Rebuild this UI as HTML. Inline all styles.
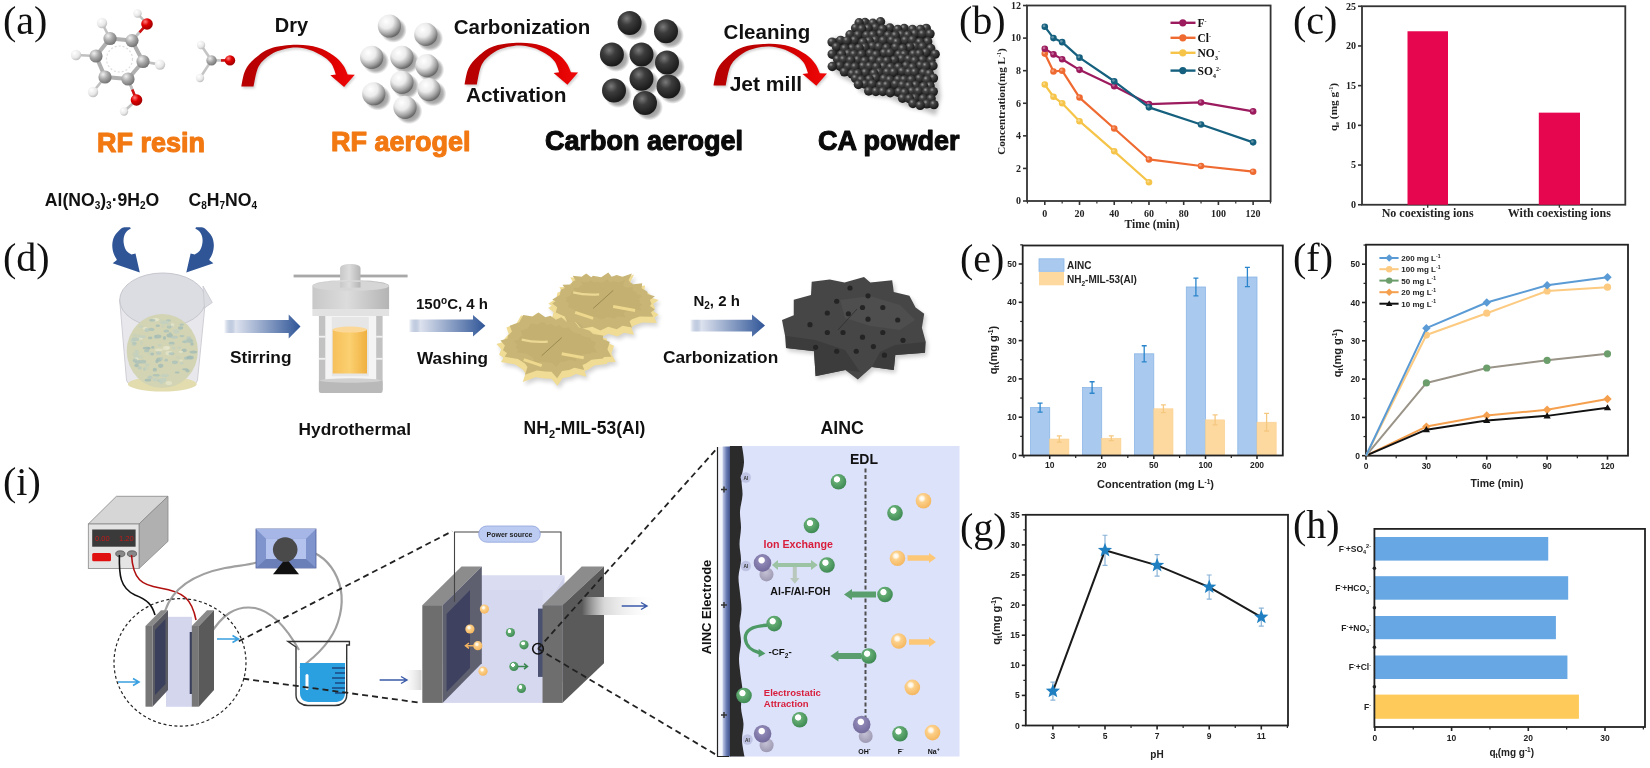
<!DOCTYPE html>
<html><head><meta charset="utf-8"><style>
html,body{margin:0;padding:0;background:#fff;width:1650px;height:768px;overflow:hidden}
svg{display:block;filter:blur(0.4px)}

</style></head><body>
<svg width="1650" height="768" viewBox="0 0 1650 768" font-family="Liberation Sans, sans-serif">
<defs>
<radialGradient id="gWhite" cx="0.36" cy="0.3" r="0.78">
 <stop offset="0" stop-color="#ffffff"/><stop offset="0.4" stop-color="#ebebeb"/><stop offset="0.72" stop-color="#a0a0a0"/><stop offset="1" stop-color="#505050"/></radialGradient>
<radialGradient id="gBlack" cx="0.38" cy="0.32" r="0.75">
 <stop offset="0" stop-color="#7a7a7a"/><stop offset="0.35" stop-color="#3c3c3c"/><stop offset="1" stop-color="#141414"/></radialGradient>
<radialGradient id="gPow" cx="0.36" cy="0.3" r="0.72">
 <stop offset="0" stop-color="#9c9c9c"/><stop offset="0.3" stop-color="#444"/><stop offset="1" stop-color="#151515"/></radialGradient>
<radialGradient id="gC" cx="0.35" cy="0.3" r="0.8">
 <stop offset="0" stop-color="#f0f0f0"/><stop offset="0.45" stop-color="#a8a8a8"/><stop offset="1" stop-color="#686868"/></radialGradient>
<radialGradient id="gO" cx="0.35" cy="0.3" r="0.8">
 <stop offset="0" stop-color="#ff8080"/><stop offset="0.4" stop-color="#e00000"/><stop offset="1" stop-color="#900000"/></radialGradient>
<radialGradient id="gH" cx="0.35" cy="0.3" r="0.8">
 <stop offset="0" stop-color="#ffffff"/><stop offset="0.6" stop-color="#e8e8e8"/><stop offset="1" stop-color="#b0b0b0"/></radialGradient>
<radialGradient id="gShadow" cx="0.5" cy="0.5" r="0.5">
 <stop offset="0" stop-color="#000" stop-opacity="0.55"/><stop offset="0.75" stop-color="#000" stop-opacity="0.3"/><stop offset="1" stop-color="#000" stop-opacity="0"/></radialGradient>
<linearGradient id="gRed2" gradientUnits="userSpaceOnUse" x1="241" y1="0" x2="355" y2="0">
 <stop offset="0" stop-color="#b80000"/><stop offset="0.5" stop-color="#bf0000"/><stop offset="0.8" stop-color="#e00000"/><stop offset="1" stop-color="#f00a0a"/></linearGradient>
<linearGradient id="gRed" x1="0" y1="0" x2="1" y2="0">
 <stop offset="0" stop-color="#b00000"/><stop offset="0.5" stop-color="#c80000"/><stop offset="1" stop-color="#e80808"/></linearGradient>
<linearGradient id="gBlueArr" x1="0" y1="0" x2="1" y2="0">
 <stop offset="0" stop-color="#2f5597" stop-opacity="0"/><stop offset="0.15" stop-color="#dde2ee"/><stop offset="1" stop-color="#2f5597"/></linearGradient>
<radialGradient id="gGreen" cx="0.4" cy="0.35" r="0.7">
 <stop offset="0" stop-color="#ffffff"/><stop offset="0.25" stop-color="#ffffff"/><stop offset="0.32" stop-color="#64ad74"/><stop offset="1" stop-color="#3a8650"/></radialGradient>
<radialGradient id="gOrange" cx="0.4" cy="0.35" r="0.7">
 <stop offset="0" stop-color="#ffffff"/><stop offset="0.2" stop-color="#fff3dc"/><stop offset="0.35" stop-color="#fcd08a"/><stop offset="1" stop-color="#f4b45a"/></radialGradient>
<radialGradient id="gPurple" cx="0.45" cy="0.35" r="0.7">
 <stop offset="0" stop-color="#ffffff"/><stop offset="0.22" stop-color="#ffffff"/><stop offset="0.3" stop-color="#8e86b4"/><stop offset="1" stop-color="#6e6698"/></radialGradient>
<radialGradient id="gPurple2" cx="0.45" cy="0.35" r="0.7">
 <stop offset="0" stop-color="#c4c0d4"/><stop offset="1" stop-color="#9a96b0"/></radialGradient>
<linearGradient id="gElec" x1="0" y1="0" x2="1" y2="0">
 <stop offset="0" stop-color="#c8d0ea"/><stop offset="0.5" stop-color="#6a7cb4"/><stop offset="1" stop-color="#3c4c84"/></linearGradient>
<linearGradient id="gFlow" x1="0" y1="0" x2="1" y2="0">
 <stop offset="0" stop-color="#ffffff" stop-opacity="0"/><stop offset="0.3" stop-color="#d8d8d8"/><stop offset="1" stop-color="#ffffff" stop-opacity="0"/></linearGradient>
<linearGradient id="gFlowL" x1="0" y1="0" x2="1" y2="0">
 <stop offset="0" stop-color="#ffffff" stop-opacity="0"/><stop offset="1" stop-color="#d8d8d8"/></linearGradient>
<linearGradient id="gYel" x1="0" y1="0" x2="1" y2="0">
 <stop offset="0" stop-color="#f6c05a"/><stop offset="0.5" stop-color="#fbd070"/><stop offset="1" stop-color="#f0b040"/></linearGradient>
<linearGradient id="gGrayCyl" x1="0" y1="0" x2="1" y2="0">
 <stop offset="0" stop-color="#c8c8c8"/><stop offset="0.45" stop-color="#dcdcdc"/><stop offset="1" stop-color="#b4b4b4"/></linearGradient>
<linearGradient id="gLiquid" x1="0" y1="0" x2="0" y2="1">
 <stop offset="0" stop-color="#d9dcc0"/><stop offset="1" stop-color="#c8c6a0"/></linearGradient>
<filter id="blur1" x="-20%" y="-20%" width="140%" height="140%"><feGaussianBlur stdDeviation="1.2"/></filter>
<filter id="blur2" x="-30%" y="-30%" width="160%" height="160%"><feGaussianBlur stdDeviation="2"/></filter>
<filter id="soft" x="-5%" y="-5%" width="110%" height="110%"><feGaussianBlur stdDeviation="0.5"/></filter>
</defs>
<rect width="1650" height="768" fill="#fff"/>
<line x1="110" y1="38.5" x2="132" y2="40.6" stroke="#b0b0b0" stroke-width="4"/><line x1="132" y1="40.6" x2="143" y2="61.5" stroke="#b0b0b0" stroke-width="4"/><line x1="143" y1="61.5" x2="128" y2="79" stroke="#b0b0b0" stroke-width="4"/><line x1="128" y1="79" x2="105" y2="77" stroke="#b0b0b0" stroke-width="4"/><line x1="105" y1="77" x2="96" y2="56" stroke="#b0b0b0" stroke-width="4"/><line x1="96" y1="56" x2="110" y2="38.5" stroke="#b0b0b0" stroke-width="4"/><line x1="110" y1="38.5" x2="102" y2="23" stroke="#c0c0c0" stroke-width="2.6"/><line x1="96" y1="56" x2="76" y2="55" stroke="#c0c0c0" stroke-width="2.6"/><line x1="143" y1="61.5" x2="160" y2="64.6" stroke="#c0c0c0" stroke-width="2.6"/><line x1="105" y1="77" x2="93" y2="92" stroke="#c0c0c0" stroke-width="2.6"/><line x1="132" y1="40.6" x2="147" y2="24" stroke="#c0c0c0" stroke-width="2.6"/><line x1="128" y1="79" x2="136.5" y2="100" stroke="#c0c0c0" stroke-width="2.6"/><line x1="147" y1="24" x2="137.5" y2="13.5" stroke="#c0c0c0" stroke-width="2.6"/><line x1="136.5" y1="100" x2="124" y2="111.5" stroke="#c0c0c0" stroke-width="2.6"/><circle cx="119.5" cy="59" r="13" fill="none" stroke="#bbb" stroke-width="1.2" stroke-dasharray="2 2" opacity="0.5"/>
<line x1="132" y1="40.6" x2="139.5" y2="32.3" stroke="#c0c0c0" stroke-width="2.6"/>
<line x1="139.5" y1="32.3" x2="147" y2="24" stroke="#d01010" stroke-width="2.6"/>
<line x1="128" y1="79" x2="132.25" y2="89.5" stroke="#c0c0c0" stroke-width="2.6"/>
<line x1="132.25" y1="89.5" x2="136.5" y2="100" stroke="#d01010" stroke-width="2.6"/>
<circle cx="102" cy="23" r="5.2" fill="url(#gH)"/>
<circle cx="76" cy="55" r="5.2" fill="url(#gH)"/>
<circle cx="160" cy="64.6" r="5.2" fill="url(#gH)"/>
<circle cx="93" cy="92" r="5.2" fill="url(#gH)"/>
<circle cx="137.5" cy="13.5" r="4.2" fill="url(#gH)"/>
<circle cx="124" cy="111.5" r="4.2" fill="url(#gH)"/>
<circle cx="110" cy="38.5" r="6.6" fill="url(#gC)"/>
<circle cx="132" cy="40.6" r="6.6" fill="url(#gC)"/>
<circle cx="143" cy="61.5" r="6.6" fill="url(#gC)"/>
<circle cx="128" cy="79" r="6.6" fill="url(#gC)"/>
<circle cx="105" cy="77" r="6.6" fill="url(#gC)"/>
<circle cx="96" cy="56" r="6.6" fill="url(#gC)"/>
<circle cx="147" cy="24" r="5.8" fill="url(#gO)"/>
<circle cx="136.5" cy="100" r="5.8" fill="url(#gO)"/>
<line x1="201" y1="45" x2="211.5" y2="60.4" stroke="#c4c4c4" stroke-width="2.6"/>
<line x1="200" y1="78" x2="211.5" y2="60.4" stroke="#c4c4c4" stroke-width="2.6"/>
<line x1="211.5" y1="60.4" x2="230" y2="60.4" stroke="#c4c4c4" stroke-width="2.6"/>
<line x1="221" y1="60.4" x2="230" y2="60.4" stroke="#d01010" stroke-width="2.6"/>
<circle cx="201" cy="45" r="4.2" fill="url(#gH)"/>
<circle cx="200" cy="78" r="4.2" fill="url(#gH)"/>
<circle cx="211.5" cy="60.4" r="5.2" fill="url(#gC)"/>
<circle cx="230" cy="60.4" r="5.2" fill="url(#gO)"/>
<g transform="translate(0,0)"><path d="M241.3,86.6 C241.95,83.92 242.97,75.17 245.2,70.5 C247.43,65.83 250.48,62.28 254.7,58.6 C258.92,54.92 263.53,50.69 270.5,48.4 C277.47,46.11 288.63,44.98 296.5,44.85 C304.37,44.72 311.53,45.83 317.7,47.6 C323.87,49.38 329.28,52.62 333.5,55.5 C337.72,58.38 340.63,61.75 343,64.9 C345.37,68.05 346.92,72.82 347.7,74.4 L354.8,74.8 L344.1,87 L330.3,75.2 L335.9,74.4 C335.12,72.57 333.57,66.55 331.2,63.4 C328.83,60.25 325.25,57.73 321.7,55.5 C318.15,53.27 313.97,51.32 309.9,50 C305.83,48.68 301.63,47.73 297.3,47.6 C292.97,47.47 288.37,48.02 283.9,49.2 C279.43,50.38 274.72,51.82 270.5,54.7 C266.28,57.58 261.43,61.18 258.6,66.5 C255.77,71.82 254.35,83.25 253.5,86.6 Z" fill="#808080" opacity="0.35" transform="translate(1.2,1.8)" filter="url(#blur1)"/><path d="M241.3,86.6 C241.95,83.92 242.97,75.17 245.2,70.5 C247.43,65.83 250.48,62.28 254.7,58.6 C258.92,54.92 263.53,50.69 270.5,48.4 C277.47,46.11 288.63,44.98 296.5,44.85 C304.37,44.72 311.53,45.83 317.7,47.6 C323.87,49.38 329.28,52.62 333.5,55.5 C337.72,58.38 340.63,61.75 343,64.9 C345.37,68.05 346.92,72.82 347.7,74.4 L354.8,74.8 L344.1,87 L330.3,75.2 L335.9,74.4 C335.12,72.57 333.57,66.55 331.2,63.4 C328.83,60.25 325.25,57.73 321.7,55.5 C318.15,53.27 313.97,51.32 309.9,50 C305.83,48.68 301.63,47.73 297.3,47.6 C292.97,47.47 288.37,48.02 283.9,49.2 C279.43,50.38 274.72,51.82 270.5,54.7 C266.28,57.58 261.43,61.18 258.6,66.5 C255.77,71.82 254.35,83.25 253.5,86.6 Z" fill="url(#gRed2)"/></g>
<g transform="translate(223.3,-2.2)"><path d="M241.3,86.6 C241.95,83.92 242.97,75.17 245.2,70.5 C247.43,65.83 250.48,62.28 254.7,58.6 C258.92,54.92 263.53,50.69 270.5,48.4 C277.47,46.11 288.63,44.98 296.5,44.85 C304.37,44.72 311.53,45.83 317.7,47.6 C323.87,49.38 329.28,52.62 333.5,55.5 C337.72,58.38 340.63,61.75 343,64.9 C345.37,68.05 346.92,72.82 347.7,74.4 L354.8,74.8 L344.1,87 L330.3,75.2 L335.9,74.4 C335.12,72.57 333.57,66.55 331.2,63.4 C328.83,60.25 325.25,57.73 321.7,55.5 C318.15,53.27 313.97,51.32 309.9,50 C305.83,48.68 301.63,47.73 297.3,47.6 C292.97,47.47 288.37,48.02 283.9,49.2 C279.43,50.38 274.72,51.82 270.5,54.7 C266.28,57.58 261.43,61.18 258.6,66.5 C255.77,71.82 254.35,83.25 253.5,86.6 Z" fill="#808080" opacity="0.35" transform="translate(1.2,1.8)" filter="url(#blur1)"/><path d="M241.3,86.6 C241.95,83.92 242.97,75.17 245.2,70.5 C247.43,65.83 250.48,62.28 254.7,58.6 C258.92,54.92 263.53,50.69 270.5,48.4 C277.47,46.11 288.63,44.98 296.5,44.85 C304.37,44.72 311.53,45.83 317.7,47.6 C323.87,49.38 329.28,52.62 333.5,55.5 C337.72,58.38 340.63,61.75 343,64.9 C345.37,68.05 346.92,72.82 347.7,74.4 L354.8,74.8 L344.1,87 L330.3,75.2 L335.9,74.4 C335.12,72.57 333.57,66.55 331.2,63.4 C328.83,60.25 325.25,57.73 321.7,55.5 C318.15,53.27 313.97,51.32 309.9,50 C305.83,48.68 301.63,47.73 297.3,47.6 C292.97,47.47 288.37,48.02 283.9,49.2 C279.43,50.38 274.72,51.82 270.5,54.7 C266.28,57.58 261.43,61.18 258.6,66.5 C255.77,71.82 254.35,83.25 253.5,86.6 Z" fill="url(#gRed2)"/></g>
<g transform="translate(472.2,-1.2)"><path d="M241.3,86.6 C241.95,83.92 242.97,75.17 245.2,70.5 C247.43,65.83 250.48,62.28 254.7,58.6 C258.92,54.92 263.53,50.69 270.5,48.4 C277.47,46.11 288.63,44.98 296.5,44.85 C304.37,44.72 311.53,45.83 317.7,47.6 C323.87,49.38 329.28,52.62 333.5,55.5 C337.72,58.38 340.63,61.75 343,64.9 C345.37,68.05 346.92,72.82 347.7,74.4 L354.8,74.8 L344.1,87 L330.3,75.2 L335.9,74.4 C335.12,72.57 333.57,66.55 331.2,63.4 C328.83,60.25 325.25,57.73 321.7,55.5 C318.15,53.27 313.97,51.32 309.9,50 C305.83,48.68 301.63,47.73 297.3,47.6 C292.97,47.47 288.37,48.02 283.9,49.2 C279.43,50.38 274.72,51.82 270.5,54.7 C266.28,57.58 261.43,61.18 258.6,66.5 C255.77,71.82 254.35,83.25 253.5,86.6 Z" fill="#808080" opacity="0.35" transform="translate(1.2,1.8)" filter="url(#blur1)"/><path d="M241.3,86.6 C241.95,83.92 242.97,75.17 245.2,70.5 C247.43,65.83 250.48,62.28 254.7,58.6 C258.92,54.92 263.53,50.69 270.5,48.4 C277.47,46.11 288.63,44.98 296.5,44.85 C304.37,44.72 311.53,45.83 317.7,47.6 C323.87,49.38 329.28,52.62 333.5,55.5 C337.72,58.38 340.63,61.75 343,64.9 C345.37,68.05 346.92,72.82 347.7,74.4 L354.8,74.8 L344.1,87 L330.3,75.2 L335.9,74.4 C335.12,72.57 333.57,66.55 331.2,63.4 C328.83,60.25 325.25,57.73 321.7,55.5 C318.15,53.27 313.97,51.32 309.9,50 C305.83,48.68 301.63,47.73 297.3,47.6 C292.97,47.47 288.37,48.02 283.9,49.2 C279.43,50.38 274.72,51.82 270.5,54.7 C266.28,57.58 261.43,61.18 258.6,66.5 C255.77,71.82 254.35,83.25 253.5,86.6 Z" fill="url(#gRed2)"/></g>
<ellipse cx="393.46" cy="30.06" rx="13.34" ry="12.76" fill="url(#gShadow)"/><circle cx="389.4" cy="26" r="11.6" fill="url(#gWhite)"/>
<ellipse cx="429.86" cy="38.46" rx="13.34" ry="12.76" fill="url(#gShadow)"/><circle cx="425.8" cy="34.4" r="11.6" fill="url(#gWhite)"/>
<ellipse cx="375.76" cy="61.36" rx="13.34" ry="12.76" fill="url(#gShadow)"/><circle cx="371.7" cy="57.3" r="11.6" fill="url(#gWhite)"/>
<ellipse cx="405.96" cy="61.36" rx="13.34" ry="12.76" fill="url(#gShadow)"/><circle cx="401.9" cy="57.3" r="11.6" fill="url(#gWhite)"/>
<ellipse cx="430.96" cy="69.66" rx="13.34" ry="12.76" fill="url(#gShadow)"/><circle cx="426.9" cy="65.6" r="11.6" fill="url(#gWhite)"/>
<ellipse cx="405.96" cy="86.36" rx="13.34" ry="12.76" fill="url(#gShadow)"/><circle cx="401.9" cy="82.3" r="11.6" fill="url(#gWhite)"/>
<ellipse cx="377.81" cy="97.81" rx="13.34" ry="12.76" fill="url(#gShadow)"/><circle cx="373.75" cy="93.75" r="11.6" fill="url(#gWhite)"/>
<ellipse cx="433.06" cy="93.66" rx="13.34" ry="12.76" fill="url(#gShadow)"/><circle cx="429" cy="89.6" r="11.6" fill="url(#gWhite)"/>
<ellipse cx="409.06" cy="111.36" rx="13.34" ry="12.76" fill="url(#gShadow)"/><circle cx="405" cy="107.3" r="11.6" fill="url(#gWhite)"/>
<ellipse cx="633.8" cy="27.1" rx="13.8" ry="13.2" fill="url(#gShadow)"/><circle cx="629.6" cy="22.9" r="12" fill="url(#gBlack)"/>
<ellipse cx="670.2" cy="35.45" rx="13.8" ry="13.2" fill="url(#gShadow)"/><circle cx="666" cy="31.25" r="12" fill="url(#gBlack)"/>
<ellipse cx="616.1" cy="58.8" rx="13.8" ry="13.2" fill="url(#gShadow)"/><circle cx="611.9" cy="54.6" r="12" fill="url(#gBlack)"/>
<ellipse cx="645.7" cy="58.8" rx="13.8" ry="13.2" fill="url(#gShadow)"/><circle cx="641.5" cy="54.6" r="12" fill="url(#gBlack)"/>
<ellipse cx="671.2" cy="66.7" rx="13.8" ry="13.2" fill="url(#gShadow)"/><circle cx="667" cy="62.5" r="12" fill="url(#gBlack)"/>
<ellipse cx="645.7" cy="82.95" rx="13.8" ry="13.2" fill="url(#gShadow)"/><circle cx="641.5" cy="78.75" r="12" fill="url(#gBlack)"/>
<ellipse cx="618.2" cy="94.8" rx="13.8" ry="13.2" fill="url(#gShadow)"/><circle cx="614" cy="90.6" r="12" fill="url(#gBlack)"/>
<ellipse cx="672.7" cy="90.7" rx="13.8" ry="13.2" fill="url(#gShadow)"/><circle cx="668.5" cy="86.5" r="12" fill="url(#gBlack)"/>
<ellipse cx="649.2" cy="107.2" rx="13.8" ry="13.2" fill="url(#gShadow)"/><circle cx="645" cy="103" r="12" fill="url(#gBlack)"/>
<polygon points="837.6,37.2 845.4,40.3 854.8,32.5 859.5,23.1 880,21.5 900,27.8 919,26.25 931,30.9 933,41.5 937.6,54.5 939,82.5 940.75,96.5 936,115.5 923.5,110.5 909.5,107.5 895.4,101.25 889,98.1 873.5,96.5 859.5,91.5 858,85.5 842,77.5 833.7,71.5 832,49.5 833,38.75" fill="#000" opacity="0.25" filter="url(#blur2)"/>
<polygon points="838.98,37.47 846.24,40.26 854.98,33.24 859.35,24.78 878.42,23.34 897.02,29.01 914.69,27.62 925.85,31.8 927.71,41.34 931.98,53.04 933.29,78.24 934.91,90.84 930.5,107.94 918.87,103.44 905.85,100.74 892.74,95.12 886.79,92.28 872.37,90.84 859.35,86.34 857.96,80.94 843.08,73.74 835.36,68.34 833.78,48.54 834.71,38.87" fill="#262626"/>
<circle cx="864.99" cy="22.48" r="4.7" fill="url(#gPow)"/>
<circle cx="859.11" cy="22.78" r="4.7" fill="url(#gPow)"/>
<circle cx="880.55" cy="21.79" r="4.7" fill="url(#gPow)"/>
<circle cx="872.86" cy="23.2" r="4.7" fill="url(#gPow)"/>
<circle cx="855.57" cy="28.08" r="4.7" fill="url(#gPow)"/>
<circle cx="875.6" cy="27.68" r="4.7" fill="url(#gPow)"/>
<circle cx="868.05" cy="28.51" r="4.7" fill="url(#gPow)"/>
<circle cx="861.73" cy="29" r="4.7" fill="url(#gPow)"/>
<circle cx="889.91" cy="27.99" r="4.7" fill="url(#gPow)"/>
<circle cx="882.54" cy="29.24" r="4.7" fill="url(#gPow)"/>
<circle cx="904.19" cy="28.48" r="4.7" fill="url(#gPow)"/>
<circle cx="897.74" cy="29.49" r="4.7" fill="url(#gPow)"/>
<circle cx="926.27" cy="28.4" r="4.7" fill="url(#gPow)"/>
<circle cx="912.52" cy="29.52" r="4.7" fill="url(#gPow)"/>
<circle cx="920.37" cy="29.47" r="4.7" fill="url(#gPow)"/>
<circle cx="850.01" cy="34.71" r="4.7" fill="url(#gPow)"/>
<circle cx="880.42" cy="33.83" r="4.7" fill="url(#gPow)"/>
<circle cx="858.09" cy="35.06" r="4.7" fill="url(#gPow)"/>
<circle cx="866.69" cy="35.36" r="4.7" fill="url(#gPow)"/>
<circle cx="872.84" cy="35.18" r="4.7" fill="url(#gPow)"/>
<circle cx="914.95" cy="33.86" r="4.7" fill="url(#gPow)"/>
<circle cx="901.34" cy="34.66" r="4.7" fill="url(#gPow)"/>
<circle cx="888.16" cy="35.57" r="4.7" fill="url(#gPow)"/>
<circle cx="922.5" cy="34.09" r="4.7" fill="url(#gPow)"/>
<circle cx="930.02" cy="33.83" r="4.7" fill="url(#gPow)"/>
<circle cx="895.3" cy="35.61" r="4.7" fill="url(#gPow)"/>
<circle cx="907.85" cy="35.22" r="4.7" fill="url(#gPow)"/>
<circle cx="840.67" cy="40.36" r="4.7" fill="url(#gPow)"/>
<circle cx="854.47" cy="40.29" r="4.7" fill="url(#gPow)"/>
<circle cx="847.01" cy="40.83" r="4.7" fill="url(#gPow)"/>
<circle cx="832.06" cy="42.1" r="4.7" fill="url(#gPow)"/>
<circle cx="875.41" cy="40.25" r="4.7" fill="url(#gPow)"/>
<circle cx="869.12" cy="41.16" r="4.7" fill="url(#gPow)"/>
<circle cx="883.22" cy="40.64" r="4.7" fill="url(#gPow)"/>
<circle cx="891.59" cy="40.39" r="4.7" fill="url(#gPow)"/>
<circle cx="862.84" cy="42.38" r="4.7" fill="url(#gPow)"/>
<circle cx="905.27" cy="40.35" r="4.7" fill="url(#gPow)"/>
<circle cx="912.5" cy="40.06" r="4.7" fill="url(#gPow)"/>
<circle cx="896.86" cy="42.28" r="4.7" fill="url(#gPow)"/>
<circle cx="927.67" cy="41.67" r="4.7" fill="url(#gPow)"/>
<circle cx="919.67" cy="42.35" r="4.7" fill="url(#gPow)"/>
<circle cx="836.39" cy="46.84" r="4.7" fill="url(#gPow)"/>
<circle cx="872.45" cy="46.37" r="4.7" fill="url(#gPow)"/>
<circle cx="864.94" cy="47.54" r="4.7" fill="url(#gPow)"/>
<circle cx="852.05" cy="48.23" r="4.7" fill="url(#gPow)"/>
<circle cx="844.75" cy="48.66" r="4.7" fill="url(#gPow)"/>
<circle cx="878.87" cy="46.97" r="4.7" fill="url(#gPow)"/>
<circle cx="859.16" cy="48.08" r="4.7" fill="url(#gPow)"/>
<circle cx="895.5" cy="47.37" r="4.7" fill="url(#gPow)"/>
<circle cx="886.62" cy="47.96" r="4.7" fill="url(#gPow)"/>
<circle cx="915.33" cy="46.84" r="4.7" fill="url(#gPow)"/>
<circle cx="909.89" cy="47.18" r="4.7" fill="url(#gPow)"/>
<circle cx="922.47" cy="46.79" r="4.7" fill="url(#gPow)"/>
<circle cx="902.65" cy="48.67" r="4.7" fill="url(#gPow)"/>
<circle cx="930.7" cy="48.46" r="4.7" fill="url(#gPow)"/>
<circle cx="832.2" cy="54.19" r="4.7" fill="url(#gPow)"/>
<circle cx="848.2" cy="53.75" r="4.7" fill="url(#gPow)"/>
<circle cx="841.38" cy="54.48" r="4.7" fill="url(#gPow)"/>
<circle cx="870.33" cy="53.55" r="4.7" fill="url(#gPow)"/>
<circle cx="854.03" cy="54.49" r="4.7" fill="url(#gPow)"/>
<circle cx="884.14" cy="53.01" r="4.7" fill="url(#gPow)"/>
<circle cx="889.9" cy="52.96" r="4.7" fill="url(#gPow)"/>
<circle cx="861.6" cy="54.52" r="4.7" fill="url(#gPow)"/>
<circle cx="876.16" cy="54.87" r="4.7" fill="url(#gPow)"/>
<circle cx="925.91" cy="52.63" r="4.7" fill="url(#gPow)"/>
<circle cx="898.97" cy="54.54" r="4.7" fill="url(#gPow)"/>
<circle cx="904.35" cy="54.58" r="4.7" fill="url(#gPow)"/>
<circle cx="913.55" cy="54.18" r="4.7" fill="url(#gPow)"/>
<circle cx="919.24" cy="53.92" r="4.7" fill="url(#gPow)"/>
<circle cx="935.13" cy="54.16" r="4.7" fill="url(#gPow)"/>
<circle cx="837.58" cy="59.41" r="4.7" fill="url(#gPow)"/>
<circle cx="843.4" cy="59.6" r="4.7" fill="url(#gPow)"/>
<circle cx="857.82" cy="59.91" r="4.7" fill="url(#gPow)"/>
<circle cx="850.58" cy="60.31" r="4.7" fill="url(#gPow)"/>
<circle cx="872.45" cy="60" r="4.7" fill="url(#gPow)"/>
<circle cx="901.66" cy="58.94" r="4.7" fill="url(#gPow)"/>
<circle cx="864.71" cy="61.08" r="4.7" fill="url(#gPow)"/>
<circle cx="908.66" cy="59.34" r="4.7" fill="url(#gPow)"/>
<circle cx="894.4" cy="60.18" r="4.7" fill="url(#gPow)"/>
<circle cx="880.2" cy="61.07" r="4.7" fill="url(#gPow)"/>
<circle cx="887.01" cy="61.1" r="4.7" fill="url(#gPow)"/>
<circle cx="922.41" cy="60.04" r="4.7" fill="url(#gPow)"/>
<circle cx="914.81" cy="60.82" r="4.7" fill="url(#gPow)"/>
<circle cx="930.94" cy="60.24" r="4.7" fill="url(#gPow)"/>
<circle cx="839.8" cy="65.86" r="4.7" fill="url(#gPow)"/>
<circle cx="832.25" cy="66.54" r="4.7" fill="url(#gPow)"/>
<circle cx="848.25" cy="66.42" r="4.7" fill="url(#gPow)"/>
<circle cx="862.99" cy="66.26" r="4.7" fill="url(#gPow)"/>
<circle cx="854.95" cy="67.02" r="4.7" fill="url(#gPow)"/>
<circle cx="869.47" cy="66.41" r="4.7" fill="url(#gPow)"/>
<circle cx="883.49" cy="66.48" r="4.7" fill="url(#gPow)"/>
<circle cx="876.43" cy="66.86" r="4.7" fill="url(#gPow)"/>
<circle cx="906.26" cy="65.82" r="4.7" fill="url(#gPow)"/>
<circle cx="920.42" cy="65.53" r="4.7" fill="url(#gPow)"/>
<circle cx="890.75" cy="67.46" r="4.7" fill="url(#gPow)"/>
<circle cx="898.48" cy="67.3" r="4.7" fill="url(#gPow)"/>
<circle cx="932.97" cy="65.78" r="4.7" fill="url(#gPow)"/>
<circle cx="925.89" cy="66.26" r="4.7" fill="url(#gPow)"/>
<circle cx="912.54" cy="67.46" r="4.7" fill="url(#gPow)"/>
<circle cx="844.38" cy="71.84" r="4.7" fill="url(#gPow)"/>
<circle cx="865.36" cy="72.67" r="4.7" fill="url(#gPow)"/>
<circle cx="852.12" cy="73.82" r="4.7" fill="url(#gPow)"/>
<circle cx="879.19" cy="72.54" r="4.7" fill="url(#gPow)"/>
<circle cx="902.13" cy="71.55" r="4.7" fill="url(#gPow)"/>
<circle cx="857.73" cy="73.79" r="4.7" fill="url(#gPow)"/>
<circle cx="887.24" cy="72.31" r="4.7" fill="url(#gPow)"/>
<circle cx="893.67" cy="72.26" r="4.7" fill="url(#gPow)"/>
<circle cx="873.98" cy="73.5" r="4.7" fill="url(#gPow)"/>
<circle cx="908.93" cy="72.56" r="4.7" fill="url(#gPow)"/>
<circle cx="914.84" cy="72.3" r="4.7" fill="url(#gPow)"/>
<circle cx="923.5" cy="72.73" r="4.7" fill="url(#gPow)"/>
<circle cx="929.35" cy="73.86" r="4.7" fill="url(#gPow)"/>
<circle cx="855.57" cy="78.42" r="4.7" fill="url(#gPow)"/>
<circle cx="875.41" cy="77.94" r="4.7" fill="url(#gPow)"/>
<circle cx="869.37" cy="79.48" r="4.7" fill="url(#gPow)"/>
<circle cx="884.05" cy="78.82" r="4.7" fill="url(#gPow)"/>
<circle cx="861.16" cy="80.01" r="4.7" fill="url(#gPow)"/>
<circle cx="889.77" cy="80.05" r="4.7" fill="url(#gPow)"/>
<circle cx="919.49" cy="78.61" r="4.7" fill="url(#gPow)"/>
<circle cx="898.32" cy="79.72" r="4.7" fill="url(#gPow)"/>
<circle cx="933.44" cy="78.11" r="4.7" fill="url(#gPow)"/>
<circle cx="904.2" cy="79.85" r="4.7" fill="url(#gPow)"/>
<circle cx="911.36" cy="79.87" r="4.7" fill="url(#gPow)"/>
<circle cx="926.93" cy="80.02" r="4.7" fill="url(#gPow)"/>
<circle cx="865.23" cy="84.14" r="4.7" fill="url(#gPow)"/>
<circle cx="858.4" cy="84.53" r="4.7" fill="url(#gPow)"/>
<circle cx="872.2" cy="84.14" r="4.7" fill="url(#gPow)"/>
<circle cx="895.44" cy="84.36" r="4.7" fill="url(#gPow)"/>
<circle cx="880.56" cy="85.42" r="4.7" fill="url(#gPow)"/>
<circle cx="886.45" cy="85.24" r="4.7" fill="url(#gPow)"/>
<circle cx="902.37" cy="85.14" r="4.7" fill="url(#gPow)"/>
<circle cx="915.74" cy="85.32" r="4.7" fill="url(#gPow)"/>
<circle cx="908.79" cy="86.1" r="4.7" fill="url(#gPow)"/>
<circle cx="930.02" cy="86.1" r="4.7" fill="url(#gPow)"/>
<circle cx="923.65" cy="86.46" r="4.7" fill="url(#gPow)"/>
<circle cx="868.68" cy="90.98" r="4.7" fill="url(#gPow)"/>
<circle cx="875.9" cy="91.5" r="4.7" fill="url(#gPow)"/>
<circle cx="882.78" cy="91.47" r="4.7" fill="url(#gPow)"/>
<circle cx="899.13" cy="91.71" r="4.7" fill="url(#gPow)"/>
<circle cx="911.94" cy="91.26" r="4.7" fill="url(#gPow)"/>
<circle cx="890.23" cy="92.71" r="4.7" fill="url(#gPow)"/>
<circle cx="918.4" cy="91.32" r="4.7" fill="url(#gPow)"/>
<circle cx="926.74" cy="91.61" r="4.7" fill="url(#gPow)"/>
<circle cx="904.59" cy="92.72" r="4.7" fill="url(#gPow)"/>
<circle cx="933.28" cy="91.61" r="4.7" fill="url(#gPow)"/>
<circle cx="902.54" cy="98.21" r="4.7" fill="url(#gPow)"/>
<circle cx="915.13" cy="97.96" r="4.7" fill="url(#gPow)"/>
<circle cx="909.36" cy="98.65" r="4.7" fill="url(#gPow)"/>
<circle cx="923.21" cy="98.7" r="4.7" fill="url(#gPow)"/>
<circle cx="931.13" cy="98.68" r="4.7" fill="url(#gPow)"/>
<circle cx="912.95" cy="103.49" r="4.7" fill="url(#gPow)"/>
<circle cx="926.79" cy="103.92" r="4.7" fill="url(#gPow)"/>
<circle cx="933.95" cy="104.64" r="4.7" fill="url(#gPow)"/>
<circle cx="920.18" cy="105.34" r="4.7" fill="url(#gPow)"/>
<text x="274.8" y="31.5" font-family="Liberation Sans" font-weight="bold" font-size="20" fill="#111">Dry</text>
<text x="453.7" y="34.4" font-family="Liberation Sans" font-weight="bold" font-size="20.5" fill="#111">Carbonization</text>
<text x="466" y="101.8" font-family="Liberation Sans" font-weight="bold" font-size="20.8" fill="#111">Activation</text>
<text x="723.6" y="38.5" font-family="Liberation Sans" font-weight="bold" font-size="20.5" fill="#111">Cleaning</text>
<text x="729.7" y="91.2" font-family="Liberation Sans" font-weight="bold" font-size="21" fill="#111">Jet mill</text>
<text x="97" y="151.7" font-family="Liberation Sans" font-weight="bold" font-size="27" stroke-width="1.1" stroke-linejoin="round" fill="#f27812" stroke="#f27812">RF resin</text>
<text x="331" y="151" font-family="Liberation Sans" font-weight="bold" font-size="27" stroke-width="1.1" stroke-linejoin="round" fill="#f27812" stroke="#f27812">RF aerogel</text>
<text x="545" y="150" font-family="Liberation Sans" font-weight="bold" font-size="27" stroke-width="1.1" stroke-linejoin="round" fill="#0a0a0a" stroke="#0a0a0a">Carbon aerogel</text>
<text x="818" y="150" font-family="Liberation Sans" font-weight="bold" font-size="27" stroke-width="1.1" stroke-linejoin="round" fill="#0a0a0a" stroke="#0a0a0a">CA powder</text>
<text x="44.8" y="205.6" font-family="Liberation Sans" font-weight="bold" font-size="17.6" fill="#111">Al(NO<tspan font-size="10" dy="3.5">3</tspan><tspan dy="-3.5">)</tspan><tspan font-size="10" dy="3.5">3</tspan><tspan dy="-3.5">·9H</tspan><tspan font-size="10" dy="3.5">2</tspan><tspan dy="-3.5">O</tspan></text>
<text x="188.5" y="205.6" font-family="Liberation Sans" font-weight="bold" font-size="17.6" fill="#111">C<tspan font-size="10" dy="3.5">8</tspan><tspan dy="-3.5">H</tspan><tspan font-size="10" dy="3.5">7</tspan><tspan dy="-3.5">NO</tspan><tspan font-size="10" dy="3.5">4</tspan></text>
<path d="M130,227.3 C129.25,227.28 126.97,227 125.5,227.2 C124.03,227.4 123.05,227 121.2,228.5 C119.35,230 115.88,233.52 114.4,236.2 C112.92,238.88 112.45,241.78 112.3,244.6 C112.15,247.42 112.73,250.55 113.5,253.1 C114.27,255.65 116.33,258.77 116.9,259.9 L112.7,263.2 L139.8,272.6 L135.5,253.5 L131.3,254.4 C130.45,253.75 127.47,252.4 126.2,250.5 C124.93,248.6 124.05,245.38 123.7,243 C123.35,240.62 123.53,238.18 124.1,236.2 C124.67,234.22 125.98,232.37 127.1,231.1 C128.22,229.83 130.18,229.02 130.8,228.6 Z" fill="#2f5597"/>
<path d="M130,227.3 C129.25,227.28 126.97,227 125.5,227.2 C124.03,227.4 123.05,227 121.2,228.5 C119.35,230 115.88,233.52 114.4,236.2 C112.92,238.88 112.45,241.78 112.3,244.6 C112.15,247.42 112.73,250.55 113.5,253.1 C114.27,255.65 116.33,258.77 116.9,259.9 L112.7,263.2 L139.8,272.6 L135.5,253.5 L131.3,254.4 C130.45,253.75 127.47,252.4 126.2,250.5 C124.93,248.6 124.05,245.38 123.7,243 C123.35,240.62 123.53,238.18 124.1,236.2 C124.67,234.22 125.98,232.37 127.1,231.1 C128.22,229.83 130.18,229.02 130.8,228.6 Z" fill="#2f5597" transform="translate(326.1,0) scale(-1,1)"/>
<path d="M119.7,300 L126.5,380 C128,394 196,394 197.5,380 L205.5,300 Z" fill="#e8e8ec" stroke="#cfcfd6" stroke-width="1"/>
<ellipse cx="162.7" cy="300" rx="43" ry="27" fill="#dcdce3" stroke="#c6c6ce" stroke-width="1"/>
<path d="M203,286 L212.3,302.5 L204.5,308 Z" fill="#dcdce3" stroke="#c6c6ce" stroke-width="0.8"/>
<ellipse cx="162.3" cy="384" rx="34.5" ry="7.5" fill="#e2dcae"/>
<ellipse cx="162.3" cy="351" rx="35.6" ry="37" fill="#d2d4b4"/>
<ellipse cx="164.08" cy="375.48" rx="3.61" ry="1.57" fill="#c0d0c2" opacity="0.75"/>
<ellipse cx="140.54" cy="338.4" rx="2.1" ry="1.28" fill="#e6e6cc" opacity="0.75"/>
<ellipse cx="184.24" cy="350.38" rx="2.6" ry="1.77" fill="#a0bab6" opacity="0.75"/>
<ellipse cx="177.21" cy="372.51" rx="2.4" ry="1.02" fill="#a0bab6" opacity="0.75"/>
<ellipse cx="164.48" cy="337.91" rx="1.6" ry="1.94" fill="#a0bab6" opacity="0.75"/>
<ellipse cx="169.71" cy="335.54" rx="3.15" ry="2.05" fill="#a0bab6" opacity="0.75"/>
<ellipse cx="155.44" cy="319.87" rx="3.17" ry="1.69" fill="#e6e6cc" opacity="0.75"/>
<ellipse cx="173.72" cy="348.27" rx="1.72" ry="1.16" fill="#c0d0c2" opacity="0.75"/>
<ellipse cx="168.78" cy="383" rx="3.29" ry="2.03" fill="#e6e6cc" opacity="0.75"/>
<ellipse cx="136.6" cy="365.44" rx="2.31" ry="1.7" fill="#a0bab6" opacity="0.75"/>
<ellipse cx="136.04" cy="335.02" rx="3.61" ry="1.03" fill="#c8d2ba" opacity="0.75"/>
<ellipse cx="157.68" cy="376.45" rx="1.88" ry="2.03" fill="#c8d2ba" opacity="0.75"/>
<ellipse cx="191.99" cy="344.02" rx="1.74" ry="1.79" fill="#a0bab6" opacity="0.75"/>
<ellipse cx="140.96" cy="326.47" rx="2.16" ry="1.08" fill="#c0d0c2" opacity="0.75"/>
<ellipse cx="181.65" cy="324.7" rx="2.29" ry="1.08" fill="#a8c0ba" opacity="0.75"/>
<ellipse cx="165.92" cy="348.16" rx="3.27" ry="2.05" fill="#e6e6cc" opacity="0.75"/>
<ellipse cx="186.42" cy="358.15" rx="2.37" ry="1.7" fill="#a8c0ba" opacity="0.75"/>
<ellipse cx="133.13" cy="340.96" rx="2.66" ry="2.2" fill="#c0d0c2" opacity="0.75"/>
<ellipse cx="159.05" cy="359.59" rx="2.73" ry="2.14" fill="#a0bab6" opacity="0.75"/>
<ellipse cx="179.3" cy="347.79" rx="1.86" ry="1.05" fill="#c0d0c2" opacity="0.75"/>
<ellipse cx="174.39" cy="337.23" rx="3.56" ry="1.45" fill="#b4c8c0" opacity="0.75"/>
<ellipse cx="139.93" cy="356.91" rx="3.49" ry="1.82" fill="#c8d2ba" opacity="0.75"/>
<ellipse cx="187.53" cy="370.72" rx="2.12" ry="1.76" fill="#a0bab6" opacity="0.75"/>
<ellipse cx="155.66" cy="319.54" rx="3.75" ry="1.63" fill="#e6e6cc" opacity="0.75"/>
<ellipse cx="159.03" cy="349.93" rx="3.77" ry="1.38" fill="#e6e6cc" opacity="0.75"/>
<ellipse cx="144.77" cy="368.89" rx="1.64" ry="1.75" fill="#b4c8c0" opacity="0.75"/>
<ellipse cx="136.52" cy="356.77" rx="2.9" ry="1.33" fill="#c0d0c2" opacity="0.75"/>
<ellipse cx="137.79" cy="352.68" rx="1.55" ry="1.44" fill="#c8d2ba" opacity="0.75"/>
<ellipse cx="150.17" cy="337.9" rx="2.24" ry="1.44" fill="#a0bab6" opacity="0.75"/>
<ellipse cx="154.84" cy="369.67" rx="2.11" ry="1.94" fill="#a0bab6" opacity="0.75"/>
<ellipse cx="185.11" cy="369.37" rx="3.07" ry="1.16" fill="#a0bab6" opacity="0.75"/>
<ellipse cx="136.43" cy="351" rx="2.05" ry="1.22" fill="#c0d0c2" opacity="0.75"/>
<ellipse cx="137.75" cy="362.01" rx="2.88" ry="2.14" fill="#a8c0ba" opacity="0.75"/>
<ellipse cx="155.41" cy="336.95" rx="1.68" ry="1.89" fill="#b4c8c0" opacity="0.75"/>
<ellipse cx="167.12" cy="375.59" rx="2.02" ry="1.15" fill="#c0d0c2" opacity="0.75"/>
<ellipse cx="148.56" cy="348.31" rx="1.92" ry="1.33" fill="#a0bab6" opacity="0.75"/>
<ellipse cx="171.32" cy="326.04" rx="2.29" ry="1.16" fill="#a0bab6" opacity="0.75"/>
<ellipse cx="154.87" cy="379.63" rx="2.57" ry="1.76" fill="#c0d0c2" opacity="0.75"/>
<ellipse cx="156.24" cy="375.29" rx="3.62" ry="1.19" fill="#a8c0ba" opacity="0.75"/>
<ellipse cx="193.37" cy="351.95" rx="3.77" ry="1.52" fill="#a0bab6" opacity="0.75"/>
<ellipse cx="191.62" cy="341.13" rx="1.57" ry="1.55" fill="#b4c8c0" opacity="0.75"/>
<ellipse cx="162.89" cy="322.22" rx="2.75" ry="2.07" fill="#c0d0c2" opacity="0.75"/>
<ellipse cx="181.41" cy="327.44" rx="1.78" ry="1.29" fill="#c0d0c2" opacity="0.75"/>
<ellipse cx="190.28" cy="357.53" rx="3.62" ry="2.08" fill="#a0bab6" opacity="0.75"/>
<ellipse cx="181.94" cy="336.1" rx="2.61" ry="1.14" fill="#a8c0ba" opacity="0.75"/>
<ellipse cx="146.66" cy="350.67" rx="2.71" ry="1.5" fill="#a8c0ba" opacity="0.75"/>
<ellipse cx="185.52" cy="341.27" rx="1.79" ry="2.17" fill="#c0d0c2" opacity="0.75"/>
<ellipse cx="134.42" cy="343.37" rx="2.31" ry="1.24" fill="#a8c0ba" opacity="0.75"/>
<ellipse cx="134.06" cy="344.51" rx="2.05" ry="1.33" fill="#b4c8c0" opacity="0.75"/>
<ellipse cx="171.12" cy="343.37" rx="2.62" ry="1.69" fill="#a8c0ba" opacity="0.75"/>
<ellipse cx="139.75" cy="367.97" rx="2.12" ry="1.63" fill="#b4c8c0" opacity="0.75"/>
<ellipse cx="142.82" cy="361.65" rx="3.47" ry="1.93" fill="#a8c0ba" opacity="0.75"/>
<ellipse cx="169.14" cy="353.13" rx="3.74" ry="2.03" fill="#e6e6cc" opacity="0.75"/>
<ellipse cx="181.74" cy="363.15" rx="1.86" ry="1.09" fill="#c0d0c2" opacity="0.75"/>
<ellipse cx="147.25" cy="364.66" rx="2.33" ry="1.23" fill="#c0d0c2" opacity="0.75"/>
<ellipse cx="156.95" cy="361.3" rx="1.51" ry="1.87" fill="#a0bab6" opacity="0.75"/>
<ellipse cx="169.06" cy="326.95" rx="2.36" ry="1.73" fill="#a8c0ba" opacity="0.75"/>
<ellipse cx="166.32" cy="330.91" rx="2.93" ry="1.52" fill="#a8c0ba" opacity="0.75"/>
<ellipse cx="146.62" cy="367.84" rx="2.22" ry="2.14" fill="#c8d2ba" opacity="0.75"/>
<ellipse cx="158.57" cy="353.19" rx="2.73" ry="1.83" fill="#b4c8c0" opacity="0.75"/>
<ellipse cx="181.08" cy="360.43" rx="1.8" ry="1.03" fill="#e6e6cc" opacity="0.75"/>
<ellipse cx="147.9" cy="380.13" rx="3.32" ry="1.31" fill="#a0bab6" opacity="0.75"/>
<ellipse cx="151.35" cy="353.61" rx="3.02" ry="2.06" fill="#c8d2ba" opacity="0.75"/>
<ellipse cx="169.19" cy="324.77" rx="2.23" ry="1.64" fill="#c8d2ba" opacity="0.75"/>
<ellipse cx="172.53" cy="324.91" rx="1.83" ry="1.93" fill="#e6e6cc" opacity="0.75"/>
<ellipse cx="171.62" cy="353.77" rx="3.02" ry="1.45" fill="#a8c0ba" opacity="0.75"/>
<ellipse cx="170.2" cy="333.37" rx="1.56" ry="1.14" fill="#a8c0ba" opacity="0.75"/>
<ellipse cx="135.77" cy="354.15" rx="2.83" ry="1.96" fill="#c0d0c2" opacity="0.75"/>
<ellipse cx="189.61" cy="357.59" rx="2.72" ry="1.29" fill="#a0bab6" opacity="0.75"/>
<ellipse cx="152.77" cy="347.47" rx="1.64" ry="1.39" fill="#a0bab6" opacity="0.75"/>
<ellipse cx="135.5" cy="339.15" rx="3.8" ry="1.78" fill="#b4c8c0" opacity="0.75"/>
<ellipse cx="136.63" cy="358.91" rx="2.08" ry="1.72" fill="#e6e6cc" opacity="0.75"/>
<ellipse cx="184.43" cy="341.68" rx="2.36" ry="1.28" fill="#a8c0ba" opacity="0.75"/>
<ellipse cx="188.85" cy="337.9" rx="2.46" ry="1.68" fill="#b4c8c0" opacity="0.75"/>
<ellipse cx="135.33" cy="335.62" rx="2.61" ry="1.77" fill="#c8d2ba" opacity="0.75"/>
<ellipse cx="172.18" cy="343.27" rx="2.65" ry="1.58" fill="#a8c0ba" opacity="0.75"/>
<ellipse cx="152.4" cy="320.23" rx="3.15" ry="1.22" fill="#a0bab6" opacity="0.75"/>
<ellipse cx="160.75" cy="365.76" rx="2.69" ry="2.12" fill="#a0bab6" opacity="0.75"/>
<ellipse cx="176.27" cy="331.39" rx="3.04" ry="2.03" fill="#c0d0c2" opacity="0.75"/>
<ellipse cx="142.08" cy="336.67" rx="3.55" ry="1.37" fill="#c0d0c2" opacity="0.75"/>
<ellipse cx="159.04" cy="380.65" rx="1.9" ry="1.43" fill="#b4c8c0" opacity="0.75"/>
<ellipse cx="149.99" cy="377.33" rx="2.46" ry="1.84" fill="#b4c8c0" opacity="0.75"/>
<ellipse cx="157.94" cy="336.6" rx="3.42" ry="1.99" fill="#a0bab6" opacity="0.75"/>
<ellipse cx="141.51" cy="342.89" rx="1.67" ry="2.14" fill="#c8d2ba" opacity="0.75"/>
<ellipse cx="168.51" cy="320.42" rx="2.58" ry="1.28" fill="#a8c0ba" opacity="0.75"/>
<ellipse cx="164.89" cy="379.06" rx="1.66" ry="1.26" fill="#c8d2ba" opacity="0.75"/>
<ellipse cx="161.51" cy="382.39" rx="1.82" ry="1.75" fill="#c0d0c2" opacity="0.75"/>
<ellipse cx="159.52" cy="345.31" rx="1.89" ry="1.05" fill="#c0d0c2" opacity="0.75"/>
<ellipse cx="166.23" cy="360.17" rx="1.77" ry="1.32" fill="#a8c0ba" opacity="0.75"/>
<ellipse cx="167.51" cy="347.74" rx="2.83" ry="1.81" fill="#e6e6cc" opacity="0.75"/>
<ellipse cx="180.8" cy="351.83" rx="2.37" ry="1.09" fill="#e6e6cc" opacity="0.75"/>
<ellipse cx="145.31" cy="328.42" rx="2.4" ry="1.65" fill="#e6e6cc" opacity="0.75"/>
<ellipse cx="174.59" cy="362.88" rx="2.49" ry="1.53" fill="#c8d2ba" opacity="0.75"/>
<ellipse cx="146.51" cy="348.14" rx="3.66" ry="1.45" fill="#a0bab6" opacity="0.75"/>
<ellipse cx="166.21" cy="322.33" rx="3.02" ry="1.8" fill="#c0d0c2" opacity="0.75"/>
<ellipse cx="189.47" cy="340.67" rx="3.23" ry="2.15" fill="#a8c0ba" opacity="0.75"/>
<ellipse cx="151.38" cy="329.44" rx="3.03" ry="1.61" fill="#a8c0ba" opacity="0.75"/>
<ellipse cx="178.46" cy="357.6" rx="2.8" ry="1.22" fill="#c8d2ba" opacity="0.75"/>
<ellipse cx="146.81" cy="330.05" rx="2.35" ry="2.1" fill="#b4c8c0" opacity="0.75"/>
<ellipse cx="152.21" cy="354.1" rx="1.83" ry="1.4" fill="#a0bab6" opacity="0.75"/>
<ellipse cx="157.74" cy="325.72" rx="2.19" ry="1.22" fill="#a0bab6" opacity="0.75"/>
<ellipse cx="134.17" cy="354.25" rx="1.66" ry="1.86" fill="#c8d2ba" opacity="0.75"/>
<ellipse cx="162.96" cy="326.48" rx="2.4" ry="1.12" fill="#c8d2ba" opacity="0.75"/>
<ellipse cx="161.33" cy="358.63" rx="1.6" ry="1.61" fill="#b4c8c0" opacity="0.75"/>
<ellipse cx="162.79" cy="380.18" rx="3.51" ry="2.13" fill="#c0d0c2" opacity="0.75"/>
<ellipse cx="135.02" cy="360.57" rx="2.31" ry="2.02" fill="#a8c0ba" opacity="0.75"/>
<ellipse cx="174.98" cy="362.21" rx="3.07" ry="1.68" fill="#a8c0ba" opacity="0.75"/>
<ellipse cx="171.34" cy="345.03" rx="1.94" ry="1.5" fill="#c8d2ba" opacity="0.75"/>
<ellipse cx="161.09" cy="320.97" rx="1.8" ry="1.73" fill="#c8d2ba" opacity="0.75"/>
<ellipse cx="180.46" cy="328.03" rx="2.71" ry="1.68" fill="#a0bab6" opacity="0.75"/>
<path d="M224,320 L288.7,320 L288.7,314.5 L300.5,326.5 L288.7,338.5 L288.7,333 L224,333 Z" fill="url(#gBlueArr)"/>
<text x="230" y="363" font-family="Liberation Sans" font-weight="bold" font-size="17.3" fill="#111">Stirring</text>
<rect x="293.6" y="274.6" width="114" height="2.8" fill="#a8a8a8"/>
<path d="M340.1,287.6 V268 C340.1,262.5 360.5,262.5 360.5,268 V287.6 Z" fill="url(#gGrayCyl)"/>
<path d="M312.4,286 C312.4,278 389.1,278 389.1,286 V309 H312.4 Z" fill="url(#gGrayCyl)"/>
<ellipse cx="350.7" cy="286" rx="38.3" ry="5" fill="#d6d6d6"/>
<rect x="340.1" y="282" width="20.4" height="5.6" fill="url(#gGrayCyl)"/>
<rect x="312.4" y="309" width="76.7" height="7" fill="#e2e2e2"/>
<rect x="318.9" y="316" width="63.7" height="74" fill="#c2c2c2"/>
<rect x="325.3" y="316" width="50.9" height="64" fill="#f4f4f4"/>
<rect x="318.9" y="335.8" width="6.4" height="1.8" fill="#f0f0f0"/><rect x="376.2" y="335.8" width="6.4" height="1.8" fill="#f0f0f0"/>
<rect x="318.9" y="357.9" width="6.4" height="1.8" fill="#f0f0f0"/><rect x="376.2" y="357.9" width="6.4" height="1.8" fill="#f0f0f0"/>
<rect x="331.8" y="317" width="37" height="59.3" fill="#e6e6e6"/>
<rect x="332.7" y="329.2" width="34.3" height="44.3" fill="url(#gYel)"/>
<ellipse cx="349.85" cy="329.6" rx="17.15" ry="3" fill="#fcd898"/>
<rect x="318.9" y="380" width="63.7" height="13" rx="2" fill="#b9b9b9"/>
<ellipse cx="350.7" cy="380.5" rx="31" ry="2.2" fill="#d0d0d0"/>
<text x="298.6" y="434.6" font-family="Liberation Sans" font-weight="bold" font-size="17.3" fill="#111">Hydrothermal</text>
<text x="416" y="309" font-family="Liberation Sans" font-weight="bold" font-size="15" fill="#111">150<tspan font-size="10" dy="-5">o</tspan><tspan dy="5">C, 4 h</tspan></text>
<path d="M408.7,319.6 L473,319.6 L473,315 L485.4,325.8 L473,336.6 L473,332 L408.7,332 Z" fill="url(#gBlueArr)"/>
<text x="417" y="364.4" font-family="Liberation Sans" font-weight="bold" font-size="17.2" fill="#111">Washing</text>
<polygon points="572.2,280.3 582.03,281.37 586.8,277.6 592.28,281.9 594,280.3 602.88,281.94 610.5,276.7 614.08,281.41 619.6,279.4 625.67,281.28 636,277.6 632.39,284.81 634.2,287.6 637.49,289.66 647,288.5 646.34,294.02 652.4,297.6 653.02,300.7 660.6,303.1 655.3,307.08 657,311.3 655.35,313.89 660.6,317.7 656.36,320.75 658.8,325.9 644.33,325.58 636,328.6 633.48,330.72 636,337.7 625.96,335.67 619.6,339.6 610.44,336.82 602,341 593.41,336.79 582,339 577.05,333.61 567,333 563.68,325.53 554,321 555.59,315.34 550.3,311 553.79,308.64 550.3,306.7 558.34,301.52 559.4,295.8 563.74,293.94 561.3,290.3 569.98,289.85 572.2,286.7 575.17,285.35" fill="#000" opacity="0.18" filter="url(#blur2)"/>
<polygon points="570.2,277.3 580.03,278.37 584.8,274.6 590.28,278.9 592,277.3 600.88,278.94 608.5,273.7 612.08,278.41 617.6,276.4 623.67,278.28 634,274.6 630.39,281.81 632.2,284.6 635.49,286.66 645,285.5 644.34,291.02 650.4,294.6 651.02,297.7 658.6,300.1 653.3,304.08 655,308.3 653.35,310.89 658.6,314.7 654.36,317.75 656.8,322.9 642.33,322.58 634,325.6 631.48,327.72 634,334.7 623.96,332.67 617.6,336.6 608.44,333.82 600,338 591.41,333.79 580,336 575.05,330.61 565,330 561.68,322.53 552,318 553.59,312.34 548.3,308 551.79,305.64 548.3,303.7 556.34,298.52 557.4,292.8 561.74,290.94 559.3,287.3 567.98,286.85 570.2,283.7 573.17,282.35" fill="#f0dc94"/>
<polygon points="572.65,275.81 581.79,276.77 586.23,273.38 591.32,277.26 592.92,275.81 601.18,277.29 608.27,272.57 611.6,276.82 616.73,275 622.37,276.69 631.98,273.38 628.62,279.88 630.31,282.38 633.37,284.24 642.21,283.19 641.6,288.17 647.23,291.38 647.81,294.18 654.86,296.33 649.93,299.91 651.51,303.71 649.98,306.05 654.86,309.47 650.92,312.22 653.19,316.85 639.72,316.56 631.98,319.28 629.64,321.19 631.98,327.47 622.64,325.65 616.73,329.18 608.21,326.68 600.36,330.44 592.37,326.66 581.76,328.64 577.16,323.79 567.81,323.24 564.72,316.52 555.72,312.44 557.2,307.35 552.28,303.44 555.53,301.32 552.28,299.57 559.76,294.92 560.74,289.76 564.77,288.09 562.51,284.81 570.58,284.41 572.65,281.57 575.41,280.36" fill="#c9b677"/>
<polygon points="580.69,281.85 587.57,282.52 590.91,280.18 594.74,282.85 595.95,281.85 602.17,282.87 607.5,279.62 610.01,282.54 613.87,281.3 618.12,282.46 625.35,280.18 622.82,284.65 624.09,286.38 626.39,287.66 633.05,286.94 632.58,290.36 636.83,292.58 637.26,294.5 642.57,295.99 638.86,298.46 640.05,301.07 638.9,302.68 642.57,305.04 639.6,306.94 641.31,310.13 631.18,309.93 625.35,311.8 623.58,313.11 625.35,317.44 618.32,316.19 613.87,318.62 607.46,316.9 601.55,319.49 595.53,316.88 587.55,318.25 584.09,314.9 577.05,314.53 574.72,309.9 567.95,307.09 569.06,303.58 565.36,300.89 567.8,299.42 565.36,298.22 570.99,295.01 571.73,291.46 574.76,290.31 573.06,288.05 579.13,287.77 580.69,285.82 582.77,284.99" fill="#c2ae6e" opacity="0.7"/>
<line x1="593.16" y1="308.44" x2="613.16" y2="290.44" stroke="#9a8a50" stroke-width="1"/>
<path d="M573.16,292.44 Q585.16,295.44 599.16,294.44" stroke="#ecd894" stroke-width="2.2" fill="none"/>
<path d="M613.16,306.44 L635.16,310.44 M575.16,312.44 L593.16,318.44" stroke="#eed88e" stroke-width="3" fill="none"/>
<polygon points="506.6,341.4 510.81,337.05 508.4,330.4 518.56,326.52 523,318.6 533.19,320.13 539.4,315.9 546.76,321.07 552.2,319.5 557.84,323.74 564,321 569.26,326.12 577.7,325 583.03,332.53 594,335.9 598,339.68 608.7,341.4 608.88,345.52 616,348.7 613.41,356.61 617.8,365 609.84,365.16 608.7,366.9 596.29,368.39 590.4,372.4 586.62,374.06 588.6,379.7 578.04,377.12 572.2,379.7 564.74,380.92 559.4,388.8 553.34,381.66 546.7,381.5 537.66,380.37 524.8,385.1 527.48,376.49 524.8,372.4 517.17,367.45 503,365 505.5,360.84 501.1,357.8 503.25,352.37 498.4,346.9 505.96,344.7" fill="#000" opacity="0.18" filter="url(#blur2)"/>
<polygon points="504.6,338.4 508.81,334.05 506.4,327.4 516.56,323.52 521,315.6 531.19,317.13 537.4,312.9 544.76,318.07 550.2,316.5 555.84,320.74 562,318 567.26,323.12 575.7,322 581.03,329.53 592,332.9 596,336.68 606.7,338.4 606.88,342.52 614,345.7 611.41,353.61 615.8,362 607.84,362.16 606.7,363.9 594.29,365.39 588.4,369.4 584.62,371.06 586.6,376.7 576.04,374.12 570.2,376.7 562.74,377.92 557.4,385.8 551.34,378.66 544.7,378.5 535.66,377.37 522.8,382.1 525.48,373.49 522.8,369.4 515.17,364.45 501,362 503.5,357.84 499.1,354.8 501.25,349.37 496.4,343.9 503.96,341.7" fill="#f0dc94"/>
<polygon points="508.04,335.53 511.95,331.61 509.71,325.63 519.16,322.13 523.29,315.01 532.77,316.38 538.54,312.58 545.38,317.23 550.45,315.82 555.7,319.63 561.42,317.17 566.31,321.77 574.16,320.77 579.12,327.54 589.32,330.58 593.04,333.98 602.99,335.53 603.16,339.23 609.78,342.1 607.37,349.22 611.45,356.77 604.05,356.91 602.99,358.48 591.45,359.81 585.97,363.43 582.46,364.92 584.3,370 574.48,367.67 569.05,370 562.1,371.09 557.14,378.19 551.5,371.76 545.33,371.62 536.93,370.6 524.96,374.86 527.45,367.11 524.96,363.43 517.87,358.97 504.69,356.77 507.02,353.02 502.92,350.29 504.92,345.4 500.41,340.48 507.44,338.5" fill="#c9b677"/>
<polygon points="519.33,337.68 522.28,334.99 520.59,330.86 527.71,328.45 530.81,323.55 537.95,324.49 542.29,321.87 547.44,325.08 551.25,324.1 555.21,326.73 559.51,325.03 563.2,328.21 569.1,327.51 572.84,332.18 580.51,334.27 583.32,336.62 590.8,337.68 590.93,340.24 595.91,342.21 594.1,347.11 597.17,352.31 591.6,352.42 590.8,353.49 582.12,354.41 577.99,356.9 575.35,357.93 576.73,361.43 569.34,359.83 565.25,361.43 560.03,362.18 556.29,367.07 552.05,362.64 547.4,362.54 541.08,361.84 532.07,364.78 533.95,359.44 532.07,356.9 526.73,353.83 516.81,352.31 518.57,349.73 515.48,347.85 516.99,344.48 513.59,341.09 518.88,339.73" fill="#c2ae6e" opacity="0.7"/>
<line x1="541.72" y1="355.67" x2="561.72" y2="337.67" stroke="#9a8a50" stroke-width="1"/>
<path d="M521.72,339.67 Q533.72,342.67 547.72,341.67" stroke="#ecd894" stroke-width="2.2" fill="none"/>
<path d="M561.72,353.67 L583.72,357.67 M523.72,359.67 L541.72,365.67" stroke="#eed88e" stroke-width="3" fill="none"/>
<text x="523.6" y="434.3" font-family="Liberation Sans" font-weight="bold" font-size="17.5" fill="#111">NH<tspan font-size="11" dy="3.5">2</tspan><tspan dy="-3.5">-MIL-53(Al)</tspan></text>
<text x="693.4" y="306.4" font-family="Liberation Sans" font-weight="bold" font-size="15" fill="#111">N<tspan font-size="10" dy="3">2</tspan><tspan dy="-3">, 2 h</tspan></text>
<path d="M690,319.8 L752,319.8 L752,314.4 L765,325.6 L752,336.8 L752,331.4 L690,331.4 Z" fill="url(#gBlueArr)"/>
<text x="663" y="363.1" font-family="Liberation Sans" font-weight="bold" font-size="17.3" fill="#111">Carbonization</text>
<polygon points="813.7,284.7 831.7,282.4 846.5,285.5 866,280 872.3,285.5 894.2,283.2 895.75,294.9 911.4,298.8 917.6,310.5 926.2,316.75 923.9,330.8 927.8,344.9 927,355.8 897.3,358 895.75,373 873.9,369.9 859.8,382.4 847.3,373 817.6,379.25 816,354.25 788,351 787,338.6 784,323 795.75,318.3 795.75,302.7 813,298" fill="#000" opacity="0.2" filter="url(#blur2)"/>
<polygon points="811.7,281.7 829.7,279.4 844.5,282.5 864,277 870.3,282.5 892.2,280.2 893.75,291.9 909.4,295.8 915.6,307.5 924.2,313.75 921.9,327.8 925.8,341.9 925,352.8 895.3,355 893.75,370 871.9,366.9 857.8,379.4 845.3,370 815.6,376.25 814,351.25 786,348 785,335.6 782,320 793.75,315.3 793.75,299.7 811,295" fill="#464646"/>
<polygon points="786,336 815,340 845,350 860,372 845.3,370 815.6,376 814,351 786,348" fill="#3c3c3c"/>
<polygon points="895,345 925,342 925,352.8 895.3,355 893.75,370 871.9,366.9 880,352" fill="#3c3c3c"/>
<polygon points="840,300 870,296 900,305 915,320 900,330 870,326 845,318" fill="#4e4e4e"/>
<line x1="838" y1="330" x2="857" y2="309" stroke="#2e2e2e" stroke-width="0.8"/>
<circle cx="850" cy="288" r="2.6" fill="#242424"/>
<circle cx="868" cy="295.8" r="2.6" fill="#242424"/>
<circle cx="836.7" cy="301.25" r="2.6" fill="#242424"/>
<circle cx="862.5" cy="307.5" r="2.6" fill="#242424"/>
<circle cx="882.8" cy="307.5" r="2.6" fill="#242424"/>
<circle cx="827.3" cy="313" r="2.6" fill="#242424"/>
<circle cx="848.4" cy="313.75" r="2.6" fill="#242424"/>
<circle cx="868" cy="319.2" r="2.6" fill="#242424"/>
<circle cx="897.7" cy="320" r="2.6" fill="#242424"/>
<circle cx="810" cy="324.7" r="2.6" fill="#242424"/>
<circle cx="827.3" cy="332.5" r="2.6" fill="#242424"/>
<circle cx="843" cy="332.5" r="2.6" fill="#242424"/>
<circle cx="862.5" cy="337.2" r="2.6" fill="#242424"/>
<circle cx="882.8" cy="332.5" r="2.6" fill="#242424"/>
<circle cx="903" cy="340.3" r="2.6" fill="#242424"/>
<circle cx="815.6" cy="347.3" r="2.6" fill="#242424"/>
<circle cx="836.7" cy="351.25" r="2.6" fill="#242424"/>
<circle cx="856.25" cy="351.25" r="2.6" fill="#242424"/>
<circle cx="873.4" cy="346.6" r="2.6" fill="#242424"/>
<circle cx="884.4" cy="355.2" r="2.6" fill="#242424"/>
<text x="820.5" y="433.6" font-family="Liberation Sans" font-weight="bold" font-size="17.8" fill="#111">AlNC</text>
<polygon points="88.3,524 116.4,496.3 168,496.3 139,524" fill="#d6d6d6" stroke="#888" stroke-width="0.8"/>
<polygon points="139,524 168,496.3 168,541.3 139,568.6" fill="#b0b0b0" stroke="#888" stroke-width="0.8"/>
<rect x="88.3" y="524" width="50.7" height="44.6" fill="#e4e4e4" stroke="#888" stroke-width="0.8"/>
<rect x="92.2" y="529.5" width="43.4" height="17.2" fill="#3a3a3a"/>
<text x="95" y="541" font-family="Liberation Sans" font-size="7.5" fill="#c81818">0.00</text>
<text x="119" y="541" font-family="Liberation Sans" font-size="7.5" fill="#c81818">1.20</text>
<rect x="92.2" y="553" width="18.8" height="8.3" rx="1.5" fill="#e01010"/>
<ellipse cx="120.3" cy="553.8" rx="4.6" ry="3" fill="#888" stroke="#555" stroke-width="0.8"/>
<ellipse cx="132" cy="553.8" rx="4.6" ry="3" fill="#888" stroke="#555" stroke-width="0.8"/>
<path d="M119.4,555 C119,575 120,588 135,595 C148,600 152,605 155,615" stroke="#111" stroke-width="1.6" fill="none"/>
<path d="M131.5,555 C133,580 142,585 160,588 C185,592 192,600 196,620" stroke="#b01010" stroke-width="1.6" fill="none"/>
<path d="M165,611 C172,590 190,575 225,568 C245,564 258,566 276,552" stroke="#a0a0a0" stroke-width="2.2" fill="none"/>
<path d="M209,636 C222,615 235,605 255,608 C270,611 285,625 299,650" stroke="#a0a0a0" stroke-width="2.2" fill="none"/>
<path d="M296,548 C330,550 350,585 338,622 C334,635 325,650 300,668" stroke="#a0a0a0" stroke-width="2.2" fill="none"/>
<ellipse cx="180" cy="662.4" rx="66" ry="63.8" fill="none" stroke="#222" stroke-width="1.2" stroke-dasharray="3 2.5"/>
<rect x="166" y="616.8" width="26" height="90" fill="#d4d6ee"/>
<polygon points="145.5,626 161,610.3 168,610.3 152.5,626" fill="#8a8a8a"/>
<polygon points="152.5,626 168,610.3 168,690 152.5,706.7" fill="#5a5a62"/>
<polygon points="155,630 165.5,619 165.5,684 155,695" fill="#3a3f5c"/>
<rect x="145.5" y="626" width="7" height="80.7" fill="#777"/>
<rect x="189.7" y="632" width="2.5" height="62" fill="#3a3f5c"/>
<polygon points="191.8,626 207,610.3 214,610.3 198.9,626" fill="#8a8a8a"/>
<polygon points="198.9,626 214,610.3 214,690 198.9,706.7" fill="#5a5a5a"/>
<rect x="191.8" y="626" width="7.1" height="80.7" fill="#777"/>
<path d="M118,682 H138 M133,678.5 L139,682 L133,685.5" stroke="#3aa0e0" stroke-width="1.6" fill="none"/>
<path d="M217,639 H237.5 M232.5,635.5 L238.5,639 L232.5,642.5" stroke="#3aa0e0" stroke-width="1.6" fill="none"/>
<rect x="256" y="529" width="60" height="39" fill="#7f94cc" stroke="#4e5e98" stroke-width="0.8"/>
<polygon points="256,529 316,529 306,538.7 266,538.7" fill="#a6b6e6"/>
<polygon points="256,568 316,568 306,559 266,559" fill="#6a7eb8"/>
<rect x="266" y="538.7" width="40" height="20.3" fill="#b4c2ee"/>
<polygon points="273,574.2 299,574.2 286,558" fill="#111"/>
<circle cx="285.2" cy="549.6" r="12.3" fill="#4a4a4a"/>
<path d="M300,663 H345 V693 C345,700 340,702 335,702 H310 C305,702 300,700 300,693 Z" fill="#2aa0e0"/>
<path d="M288,641.5 H349.4 V645 H346.7 V695 C346.7,702 341,705.5 335,705.5 H308 C302,705.5 296,702 296,695 V647 Z" fill="none" stroke="#333" stroke-width="1.4"/>
<line x1="332" y1="668" x2="345" y2="668" stroke="#1a3a70" stroke-width="1.3"/>
<line x1="335" y1="673" x2="345" y2="673" stroke="#1a3a70" stroke-width="1.3"/>
<line x1="332" y1="678" x2="345" y2="678" stroke="#1a3a70" stroke-width="1.3"/>
<line x1="335" y1="683" x2="345" y2="683" stroke="#1a3a70" stroke-width="1.3"/>
<line x1="332" y1="688" x2="345" y2="688" stroke="#1a3a70" stroke-width="1.3"/>
<line x1="335" y1="693" x2="345" y2="693" stroke="#1a3a70" stroke-width="1.3"/>
<rect x="305.5" y="674" width="3" height="16" rx="1.5" fill="#fff"/>
<polygon points="442.6,612 481.8,575.2 564.5,575.2 542.5,612" fill="#dadcf2"/>
<rect x="442.6" y="590" width="100" height="112.9" fill="#d6d8f0"/>
<polygon points="542.5,612 564.5,575.2 564.5,680 542.5,702.9" fill="#d0d2ec"/>
<polygon points="422.3,605.2 461.5,566.4 481.8,566.4 442.6,605.2" fill="#8c8c8c"/>
<polygon points="442.6,605.2 481.8,566.4 481.8,663.3 442.6,702.9" fill="#5e6070"/>
<polygon points="446.5,614 470,590 470,668 446.5,692" fill="#3e4260"/>
<rect x="422.3" y="605.2" width="20.3" height="97.7" fill="#6e6e6e"/>
<rect x="538" y="608.6" width="5.4" height="68.3" fill="#4a5070"/>
<polygon points="542.5,605.2 581.7,566.4 604,566.4 562.3,605.2" fill="#8c8c8c"/>
<polygon points="562.3,605.2 604,566.4 604,663.3 562.3,702.9" fill="#5a5a5a"/>
<rect x="542.5" y="605.2" width="19.8" height="97.7" fill="#6e6e6e"/>
<path d="M454.5,601.7 V532 H561 V575" stroke="#444" stroke-width="1.1" fill="none"/>
<rect x="478.7" y="526" width="61.6" height="16.2" rx="8" fill="#bccbf2" stroke="#8fa2da" stroke-width="0.8"/>
<text x="509.5" y="537" font-family="Liberation Sans" font-weight="bold" font-size="7" text-anchor="middle" fill="#222">Power source</text>
<circle cx="484.4" cy="609.1" r="4.6" fill="url(#gOrange)"/>
<circle cx="469.9" cy="629" r="4.6" fill="url(#gOrange)"/>
<circle cx="477.8" cy="645.7" r="4.6" fill="url(#gOrange)"/>
<circle cx="483" cy="671.2" r="4.6" fill="url(#gOrange)"/>
<path d="M474,645.7 H466 M469,643 L465.5,645.7 L469,648.4" stroke="#f0b060" stroke-width="1.5" fill="none"/>
<circle cx="510.4" cy="632.5" r="4.6" fill="url(#gGreen)"/>
<circle cx="524" cy="644.8" r="4.6" fill="url(#gGreen)"/>
<circle cx="513.9" cy="666.4" r="4.6" fill="url(#gGreen)"/>
<circle cx="521.4" cy="688.4" r="4.6" fill="url(#gGreen)"/>
<path d="M518,666.4 H527 M524,663.7 L527.5,666.4 L524,669.1" stroke="#3a8650" stroke-width="1.5" fill="none"/>
<circle cx="538" cy="648.75" r="5.3" fill="none" stroke="#111" stroke-width="1.6"/>
<rect x="582" y="597" width="75" height="18" fill="url(#gFlow)"/>
<path d="M621.7,606 H646 M641,602.5 L647,606 L641,609.5" stroke="#3a5aa8" stroke-width="1.4" fill="none"/>
<rect x="399.5" y="670" width="22" height="20" fill="url(#gFlowL)"/>
<path d="M379.6,680 H406 M401,676.5 L407,680 L401,683.5" stroke="#3a5aa8" stroke-width="1.4" fill="none"/>
<line x1="238.8" y1="641.3" x2="452.3" y2="531.2" stroke="#222" stroke-width="1.8" stroke-dasharray="6 4" fill="none"/>
<line x1="243.2" y1="678.7" x2="421.5" y2="702.9" stroke="#222" stroke-width="1.8" stroke-dasharray="6 4" fill="none"/>
<line x1="538" y1="648.75" x2="717.7" y2="447.6" stroke="#222" stroke-width="1.8" stroke-dasharray="6 4" fill="none"/>
<line x1="538" y1="648.75" x2="717.7" y2="755.7" stroke="#222" stroke-width="1.8" stroke-dasharray="6 4" fill="none"/>
<rect x="729" y="446" width="230.5" height="310.5" fill="#dce2fa"/>
<rect x="718.2" y="447" width="4.5" height="309.5" fill="#f4f6fc"/>
<rect x="722.5" y="446.5" width="8" height="310" fill="url(#gElec)"/>
<path d="M730,446 L742,446.0 C742.33,448.72 744.08,456.89 744,462.34 C743.92,467.79 741.75,473.24 741.5,478.68 C741.25,484.13 742.75,489.58 742.5,495.03 C742.25,500.47 740.25,505.92 740,511.37 C739.75,516.82 741.08,522.26 741,527.71 C740.92,533.16 739.5,538.61 739.5,544.05 C739.5,549.5 741.17,554.95 741,560.39 C740.83,565.84 738.67,571.29 738.5,576.74 C738.33,582.18 739.5,587.63 740,593.08 C740.5,598.53 741.58,603.97 741.5,609.42 C741.42,614.87 739.58,620.32 739.5,625.76 C739.42,631.21 741.08,636.66 741,642.11 C740.92,647.55 739.08,653 739,658.45 C738.92,663.89 739.92,669.34 740.5,674.79 C741.08,680.24 742.42,685.68 742.5,691.13 C742.58,696.58 740.83,702.03 741,707.47 C741.17,712.92 743.33,718.37 743.5,723.82 C743.67,729.26 741.83,734.71 742,740.16 C742.17,745.61 744.08,753.78 744.5,756.5 L730,756.5 Z" fill="#2b2b2b"/>
<path d="M717.5,447 V756.5 H729" stroke="#222" stroke-width="1.2" fill="none"/>
<path d="M721,489.6 h6 M724,486.6 v6" stroke="#333" stroke-width="1.5"/>
<path d="M721,605 h6 M724,602 v6" stroke="#333" stroke-width="1.5"/>
<path d="M721,715 h6 M724,712 v6" stroke="#333" stroke-width="1.5"/>
<text transform="translate(711,607) rotate(-90)" font-family="Liberation Sans" font-weight="bold" font-size="13" text-anchor="middle" fill="#111">AlNC Electrode</text>
<text x="850" y="464.3" font-family="Liberation Sans" font-weight="bold" font-size="14" fill="#111">EDL</text>
<line x1="865.5" y1="468.5" x2="865.5" y2="722" stroke="#505050" stroke-width="2" stroke-dasharray="4 2.5"/>
<circle cx="745.8" cy="477.5" r="5.2" fill="#c0c4e4"/><text x="745.8" y="479.5" font-family="Liberation Sans" font-weight="bold" font-size="4.8" text-anchor="middle" fill="#333">Al</text>
<circle cx="745.8" cy="566" r="5.2" fill="#c0c4e4"/><text x="745.8" y="568" font-family="Liberation Sans" font-weight="bold" font-size="4.8" text-anchor="middle" fill="#333">Al</text>
<circle cx="747.5" cy="739.5" r="5.2" fill="#c0c4e4"/><text x="747.5" y="741.5" font-family="Liberation Sans" font-weight="bold" font-size="4.8" text-anchor="middle" fill="#333">Al</text>
<circle cx="766.5" cy="574.4" r="7" fill="url(#gPurple2)"/><circle cx="762.5" cy="562.9" r="8.8" fill="url(#gPurple)"/>
<circle cx="766.6" cy="745.25" r="7" fill="url(#gPurple2)"/><circle cx="762.6" cy="733.75" r="8.8" fill="url(#gPurple)"/>
<circle cx="865.7" cy="736" r="7" fill="url(#gPurple2)"/><circle cx="861.7" cy="724.5" r="8.8" fill="url(#gPurple)"/>
<circle cx="838.5" cy="481.7" r="7.8" fill="url(#gGreen)"/>
<circle cx="811.5" cy="525.4" r="7.8" fill="url(#gGreen)"/>
<circle cx="895" cy="512.9" r="7.8" fill="url(#gGreen)"/>
<circle cx="827" cy="565" r="7.8" fill="url(#gGreen)"/>
<circle cx="885" cy="594.5" r="7.8" fill="url(#gGreen)"/>
<circle cx="774.2" cy="623.6" r="7.8" fill="url(#gGreen)"/>
<circle cx="868.7" cy="656" r="7.8" fill="url(#gGreen)"/>
<circle cx="744" cy="695.5" r="7.8" fill="url(#gGreen)"/>
<circle cx="799.7" cy="719.8" r="7.8" fill="url(#gGreen)"/>
<circle cx="900" cy="733.75" r="7.8" fill="url(#gGreen)"/>
<circle cx="923.5" cy="500.8" r="7.8" fill="url(#gOrange)"/>
<circle cx="897.5" cy="558.3" r="7.8" fill="url(#gOrange)"/>
<circle cx="898.8" cy="641" r="7.8" fill="url(#gOrange)"/>
<circle cx="912.3" cy="687.4" r="7.8" fill="url(#gOrange)"/>
<circle cx="932.5" cy="732.6" r="7.8" fill="url(#gOrange)"/>
<path d="M771.9,565 L778,560 V563 H811 V560 L817.7,565 L811,570 V567 H778 V570 Z" fill="#9cc4a4"/>
<path d="M792.8,567 H796.8 V578 H799.5 L794.8,583.8 L790,578 H792.8 Z" fill="#b8c8bc"/>
<path d="M844,594.6 L852,589.1 V591.6 H876 V597.6 H852 V600.1 Z" fill="#5a9e6e"/>
<path d="M830.4,656 L838.4,650.5 V653 H861 V659 H838.4 V661.5 Z" fill="#5a9e6e"/>
<path d="M936,558 L929,553 V555.2 H907.5 V560.8 H929 V563 Z" fill="#fcc878"/>
<path d="M936,642 L929,637 V639.2 H909 V644.8 H929 V647 Z" fill="#fcc878"/>
<path d="M767,625.3 C752,626 745,631 745.3,638.5 C745.8,646 752,651 760,653" stroke="#4e9a66" stroke-width="3.4" fill="none"/>
<polygon points="758.6,648.7 765.5,653.4 758.6,657.3" fill="#4e9a66"/>
<text x="763.5" y="548.3" font-family="Liberation Sans" font-weight="bold" fill="#d81e3c" font-size="10.7">Ion Exchange</text>
<text x="763.8" y="695.5" font-family="Liberation Sans" font-weight="bold" fill="#d81e3c" font-size="9.5">Electrostatic</text>
<text x="763.8" y="706.5" font-family="Liberation Sans" font-weight="bold" fill="#d81e3c" font-size="9.5">Attraction</text>
<text x="770.3" y="595.2" font-family="Liberation Sans" font-weight="bold" font-size="10.6" fill="#111">Al-F/Al-FOH</text>
<text x="768.5" y="655.3" font-family="Liberation Sans" font-weight="bold" font-size="9.8" fill="#111">-CF<tspan font-size="6.5" dy="2.5">2</tspan><tspan dy="-2.5">-</tspan></text>
<text x="858.3" y="754.4" font-family="Liberation Sans" font-weight="bold" font-size="7" fill="#111">OH<tspan font-size="5" dy="-3">-</tspan></text>
<text x="897.7" y="754.4" font-family="Liberation Sans" font-weight="bold" font-size="7" fill="#111">F<tspan font-size="5" dy="-3">-</tspan></text>
<text x="927.8" y="754.4" font-family="Liberation Sans" font-weight="bold" font-size="7" fill="#111">Na<tspan font-size="5" dy="-3">+</tspan></text>
<rect x="1027" y="5.5" width="243.6" height="195.5" fill="none" stroke="#333" stroke-width="1.8"/>
<line x1="1023" y1="201" x2="1027" y2="201" stroke="#333" stroke-width="1.6"/>
<text x="1021" y="204.3" font-family="Liberation Serif" font-weight="bold" font-size="10" text-anchor="end" fill="#222">0</text>
<line x1="1023" y1="168.42" x2="1027" y2="168.42" stroke="#333" stroke-width="1.6"/>
<text x="1021" y="171.72" font-family="Liberation Serif" font-weight="bold" font-size="10" text-anchor="end" fill="#222">2</text>
<line x1="1023" y1="135.84" x2="1027" y2="135.84" stroke="#333" stroke-width="1.6"/>
<text x="1021" y="139.14" font-family="Liberation Serif" font-weight="bold" font-size="10" text-anchor="end" fill="#222">4</text>
<line x1="1023" y1="103.26" x2="1027" y2="103.26" stroke="#333" stroke-width="1.6"/>
<text x="1021" y="106.56" font-family="Liberation Serif" font-weight="bold" font-size="10" text-anchor="end" fill="#222">6</text>
<line x1="1023" y1="70.68" x2="1027" y2="70.68" stroke="#333" stroke-width="1.6"/>
<text x="1021" y="73.98" font-family="Liberation Serif" font-weight="bold" font-size="10" text-anchor="end" fill="#222">8</text>
<line x1="1023" y1="38.1" x2="1027" y2="38.1" stroke="#333" stroke-width="1.6"/>
<text x="1021" y="41.4" font-family="Liberation Serif" font-weight="bold" font-size="10" text-anchor="end" fill="#222">10</text>
<line x1="1023" y1="5.52" x2="1027" y2="5.52" stroke="#333" stroke-width="1.6"/>
<text x="1021" y="8.82" font-family="Liberation Serif" font-weight="bold" font-size="10" text-anchor="end" fill="#222">12</text>
<line x1="1044.8" y1="201" x2="1044.8" y2="205" stroke="#333" stroke-width="1.6"/>
<text x="1044.8" y="217" font-family="Liberation Serif" font-weight="bold" font-size="10" text-anchor="middle" fill="#222">0</text>
<line x1="1079.52" y1="201" x2="1079.52" y2="205" stroke="#333" stroke-width="1.6"/>
<text x="1079.52" y="217" font-family="Liberation Serif" font-weight="bold" font-size="10" text-anchor="middle" fill="#222">20</text>
<line x1="1114.24" y1="201" x2="1114.24" y2="205" stroke="#333" stroke-width="1.6"/>
<text x="1114.24" y="217" font-family="Liberation Serif" font-weight="bold" font-size="10" text-anchor="middle" fill="#222">40</text>
<line x1="1148.96" y1="201" x2="1148.96" y2="205" stroke="#333" stroke-width="1.6"/>
<text x="1148.96" y="217" font-family="Liberation Serif" font-weight="bold" font-size="10" text-anchor="middle" fill="#222">60</text>
<line x1="1183.68" y1="201" x2="1183.68" y2="205" stroke="#333" stroke-width="1.6"/>
<text x="1183.68" y="217" font-family="Liberation Serif" font-weight="bold" font-size="10" text-anchor="middle" fill="#222">80</text>
<line x1="1218.4" y1="201" x2="1218.4" y2="205" stroke="#333" stroke-width="1.6"/>
<text x="1218.4" y="217" font-family="Liberation Serif" font-weight="bold" font-size="10" text-anchor="middle" fill="#222">100</text>
<line x1="1253.12" y1="201" x2="1253.12" y2="205" stroke="#333" stroke-width="1.6"/>
<text x="1253.12" y="217" font-family="Liberation Serif" font-weight="bold" font-size="10" text-anchor="middle" fill="#222">120</text>
<line x1="1027.44" y1="201" x2="1027.44" y2="203.5" stroke="#333" stroke-width="1.2"/>
<line x1="1062.16" y1="201" x2="1062.16" y2="203.5" stroke="#333" stroke-width="1.2"/>
<line x1="1096.88" y1="201" x2="1096.88" y2="203.5" stroke="#333" stroke-width="1.2"/>
<line x1="1131.6" y1="201" x2="1131.6" y2="203.5" stroke="#333" stroke-width="1.2"/>
<line x1="1166.32" y1="201" x2="1166.32" y2="203.5" stroke="#333" stroke-width="1.2"/>
<line x1="1201.04" y1="201" x2="1201.04" y2="203.5" stroke="#333" stroke-width="1.2"/>
<line x1="1235.76" y1="201" x2="1235.76" y2="203.5" stroke="#333" stroke-width="1.2"/>
<line x1="1270.48" y1="201" x2="1270.48" y2="203.5" stroke="#333" stroke-width="1.2"/>
<text x="1152" y="228" font-family="Liberation Serif" font-weight="bold" font-size="11.5" text-anchor="middle" fill="#222">Time (min)</text>
<text transform="translate(1004.8,101.5) rotate(-90)" font-family="Liberation Serif" font-weight="bold" font-size="11.2" text-anchor="middle" fill="#222">Concentration(mg L<tspan font-size="6" dy="-4">-1</tspan><tspan dy="4">)</tspan></text>
<path d="M1044.8,84.53 L1053.48,96.74 L1062.16,103.26 L1079.52,121.18 L1114.24,151.32 L1148.96,182.27" fill="none" stroke="#f5c448" stroke-width="2.2" stroke-linejoin="round"/>
<circle cx="1044.8" cy="84.53" r="3.3" fill="#f5c448"/>
<circle cx="1044" cy="83.73" r="1.3" fill="#fff" opacity="0.35"/>
<circle cx="1053.48" cy="96.74" r="3.3" fill="#f5c448"/>
<circle cx="1052.68" cy="95.94" r="1.3" fill="#fff" opacity="0.35"/>
<circle cx="1062.16" cy="103.26" r="3.3" fill="#f5c448"/>
<circle cx="1061.36" cy="102.46" r="1.3" fill="#fff" opacity="0.35"/>
<circle cx="1079.52" cy="121.18" r="3.3" fill="#f5c448"/>
<circle cx="1078.72" cy="120.38" r="1.3" fill="#fff" opacity="0.35"/>
<circle cx="1114.24" cy="151.32" r="3.3" fill="#f5c448"/>
<circle cx="1113.44" cy="150.52" r="1.3" fill="#fff" opacity="0.35"/>
<circle cx="1148.96" cy="182.27" r="3.3" fill="#f5c448"/>
<circle cx="1148.16" cy="181.47" r="1.3" fill="#fff" opacity="0.35"/>
<path d="M1044.8,53.58 L1053.48,71.49 L1062.16,70.68 L1079.52,97.56 L1114.24,128.51 L1148.96,159.46 L1201.04,165.98 L1253.12,171.68" fill="none" stroke="#ef6a30" stroke-width="2.2" stroke-linejoin="round"/>
<circle cx="1044.8" cy="53.58" r="3.3" fill="#ef6a30"/>
<circle cx="1044" cy="52.78" r="1.3" fill="#fff" opacity="0.35"/>
<circle cx="1053.48" cy="71.49" r="3.3" fill="#ef6a30"/>
<circle cx="1052.68" cy="70.69" r="1.3" fill="#fff" opacity="0.35"/>
<circle cx="1062.16" cy="70.68" r="3.3" fill="#ef6a30"/>
<circle cx="1061.36" cy="69.88" r="1.3" fill="#fff" opacity="0.35"/>
<circle cx="1079.52" cy="97.56" r="3.3" fill="#ef6a30"/>
<circle cx="1078.72" cy="96.76" r="1.3" fill="#fff" opacity="0.35"/>
<circle cx="1114.24" cy="128.51" r="3.3" fill="#ef6a30"/>
<circle cx="1113.44" cy="127.71" r="1.3" fill="#fff" opacity="0.35"/>
<circle cx="1148.96" cy="159.46" r="3.3" fill="#ef6a30"/>
<circle cx="1148.16" cy="158.66" r="1.3" fill="#fff" opacity="0.35"/>
<circle cx="1201.04" cy="165.98" r="3.3" fill="#ef6a30"/>
<circle cx="1200.24" cy="165.18" r="1.3" fill="#fff" opacity="0.35"/>
<circle cx="1253.12" cy="171.68" r="3.3" fill="#ef6a30"/>
<circle cx="1252.32" cy="170.88" r="1.3" fill="#fff" opacity="0.35"/>
<path d="M1044.8,48.69 L1053.48,54.39 L1062.16,59.28 L1079.52,69.87 L1114.24,86.16 L1148.96,104.07 L1201.04,102.45 L1253.12,111.41" fill="none" stroke="#9c1a5e" stroke-width="2.2" stroke-linejoin="round"/>
<circle cx="1044.8" cy="48.69" r="3.3" fill="#9c1a5e"/>
<circle cx="1044" cy="47.89" r="1.3" fill="#fff" opacity="0.35"/>
<circle cx="1053.48" cy="54.39" r="3.3" fill="#9c1a5e"/>
<circle cx="1052.68" cy="53.59" r="1.3" fill="#fff" opacity="0.35"/>
<circle cx="1062.16" cy="59.28" r="3.3" fill="#9c1a5e"/>
<circle cx="1061.36" cy="58.48" r="1.3" fill="#fff" opacity="0.35"/>
<circle cx="1079.52" cy="69.87" r="3.3" fill="#9c1a5e"/>
<circle cx="1078.72" cy="69.07" r="1.3" fill="#fff" opacity="0.35"/>
<circle cx="1114.24" cy="86.16" r="3.3" fill="#9c1a5e"/>
<circle cx="1113.44" cy="85.36" r="1.3" fill="#fff" opacity="0.35"/>
<circle cx="1148.96" cy="104.07" r="3.3" fill="#9c1a5e"/>
<circle cx="1148.16" cy="103.27" r="1.3" fill="#fff" opacity="0.35"/>
<circle cx="1201.04" cy="102.45" r="3.3" fill="#9c1a5e"/>
<circle cx="1200.24" cy="101.65" r="1.3" fill="#fff" opacity="0.35"/>
<circle cx="1253.12" cy="111.41" r="3.3" fill="#9c1a5e"/>
<circle cx="1252.32" cy="110.61" r="1.3" fill="#fff" opacity="0.35"/>
<path d="M1044.8,26.7 L1053.48,38.1 L1062.16,42.17 L1079.52,57.65 L1114.24,81.27 L1148.96,107.33 L1201.04,124.44 L1253.12,142.36" fill="none" stroke="#15607e" stroke-width="2.2" stroke-linejoin="round"/>
<circle cx="1044.8" cy="26.7" r="3.3" fill="#15607e"/>
<circle cx="1044" cy="25.9" r="1.3" fill="#fff" opacity="0.35"/>
<circle cx="1053.48" cy="38.1" r="3.3" fill="#15607e"/>
<circle cx="1052.68" cy="37.3" r="1.3" fill="#fff" opacity="0.35"/>
<circle cx="1062.16" cy="42.17" r="3.3" fill="#15607e"/>
<circle cx="1061.36" cy="41.37" r="1.3" fill="#fff" opacity="0.35"/>
<circle cx="1079.52" cy="57.65" r="3.3" fill="#15607e"/>
<circle cx="1078.72" cy="56.85" r="1.3" fill="#fff" opacity="0.35"/>
<circle cx="1114.24" cy="81.27" r="3.3" fill="#15607e"/>
<circle cx="1113.44" cy="80.47" r="1.3" fill="#fff" opacity="0.35"/>
<circle cx="1148.96" cy="107.33" r="3.3" fill="#15607e"/>
<circle cx="1148.16" cy="106.53" r="1.3" fill="#fff" opacity="0.35"/>
<circle cx="1201.04" cy="124.44" r="3.3" fill="#15607e"/>
<circle cx="1200.24" cy="123.64" r="1.3" fill="#fff" opacity="0.35"/>
<circle cx="1253.12" cy="142.36" r="3.3" fill="#15607e"/>
<circle cx="1252.32" cy="141.56" r="1.3" fill="#fff" opacity="0.35"/>
<line x1="1170.5" y1="22.8" x2="1195.5" y2="22.8" stroke="#9c1a5e" stroke-width="2.4"/>
<circle cx="1182.8" cy="22.8" r="3.6" fill="#9c1a5e"/>
<text x="1197.5" y="26.8" font-family="Liberation Serif" font-weight="bold" font-size="11.5" fill="#111">F<tspan font-size="6" dy="-4">-</tspan></text>
<line x1="1170.5" y1="37.8" x2="1195.5" y2="37.8" stroke="#ef6a30" stroke-width="2.4"/>
<circle cx="1182.8" cy="37.8" r="3.6" fill="#ef6a30"/>
<text x="1197.5" y="41.8" font-family="Liberation Serif" font-weight="bold" font-size="11.5" fill="#111">Cl<tspan font-size="6" dy="-4">-</tspan></text>
<line x1="1170.5" y1="52.8" x2="1195.5" y2="52.8" stroke="#f5c448" stroke-width="2.4"/>
<circle cx="1182.8" cy="52.8" r="3.6" fill="#f5c448"/>
<text x="1197.5" y="56.8" font-family="Liberation Serif" font-weight="bold" font-size="11.5" fill="#111">NO<tspan font-size="6.5" dy="3">3</tspan><tspan font-size="6" dy="-7">-</tspan></text>
<line x1="1170.5" y1="70.6" x2="1195.5" y2="70.6" stroke="#15607e" stroke-width="2.4"/>
<circle cx="1182.8" cy="70.6" r="3.6" fill="#15607e"/>
<text x="1197.5" y="74.6" font-family="Liberation Serif" font-weight="bold" font-size="11.5" fill="#111">SO<tspan font-size="6.5" dy="3">4</tspan><tspan font-size="6" dy="-7">2-</tspan></text>
<rect x="1362" y="6.25" width="263.3" height="198.5" fill="none" stroke="#333" stroke-width="1.8"/>
<line x1="1358" y1="204.75" x2="1362" y2="204.75" stroke="#333" stroke-width="1.6"/>
<text x="1356" y="208.05" font-family="Liberation Serif" font-weight="bold" font-size="10" text-anchor="end" fill="#222">0</text>
<line x1="1358" y1="165.05" x2="1362" y2="165.05" stroke="#333" stroke-width="1.6"/>
<text x="1356" y="168.35" font-family="Liberation Serif" font-weight="bold" font-size="10" text-anchor="end" fill="#222">5</text>
<line x1="1358" y1="125.35" x2="1362" y2="125.35" stroke="#333" stroke-width="1.6"/>
<text x="1356" y="128.65" font-family="Liberation Serif" font-weight="bold" font-size="10" text-anchor="end" fill="#222">10</text>
<line x1="1358" y1="85.65" x2="1362" y2="85.65" stroke="#333" stroke-width="1.6"/>
<text x="1356" y="88.95" font-family="Liberation Serif" font-weight="bold" font-size="10" text-anchor="end" fill="#222">15</text>
<line x1="1358" y1="45.95" x2="1362" y2="45.95" stroke="#333" stroke-width="1.6"/>
<text x="1356" y="49.25" font-family="Liberation Serif" font-weight="bold" font-size="10" text-anchor="end" fill="#222">20</text>
<line x1="1358" y1="6.25" x2="1362" y2="6.25" stroke="#333" stroke-width="1.6"/>
<text x="1356" y="9.55" font-family="Liberation Serif" font-weight="bold" font-size="10" text-anchor="end" fill="#222">25</text>
<rect x="1407.5" y="31.26" width="40.5" height="173.49" fill="#e6064f"/>
<rect x="1538.8" y="112.65" width="41.2" height="92.1" fill="#e6064f"/>
<line x1="1427.7" y1="204.75" x2="1427.7" y2="207.75" stroke="#333" stroke-width="1.4"/>
<line x1="1559.4" y1="204.75" x2="1559.4" y2="207.75" stroke="#333" stroke-width="1.4"/>
<text x="1427.7" y="217.25" font-family="Liberation Serif" font-weight="bold" font-size="12" text-anchor="middle" fill="#222">No coexisting ions</text>
<text x="1559.4" y="217.25" font-family="Liberation Serif" font-weight="bold" font-size="12" text-anchor="middle" fill="#222">With coexisting ions</text>
<text transform="translate(1336.5,107) rotate(-90)" font-family="Liberation Serif" font-weight="bold" font-size="11.3" text-anchor="middle" fill="#222">q<tspan font-size="6" dy="2">e</tspan><tspan dy="-2"> (mg g</tspan><tspan font-size="6" dy="-4">-1</tspan><tspan dy="4">)</tspan></text>
<rect x="1030.5" y="407.62" width="19.2" height="47.88" fill="#a9c9ee" stroke="#8ab6e6" stroke-width="0.8"/>
<rect x="1049.7" y="439.03" width="19.2" height="16.47" fill="#fdd9a0" stroke="#fbd090" stroke-width="0.6"/>
<path d="M1040.1,403.03 V412.22 M1037.6,403.03 H1042.6 M1037.6,412.22 H1042.6" stroke="#2a85cc" stroke-width="1.3" fill="none"/>
<path d="M1059.3,435.97 V442.1 M1056.8,435.97 H1061.8 M1056.8,442.1 H1061.8" stroke="#f5c880" stroke-width="1.3" fill="none"/>
<rect x="1082.5" y="387.52" width="19.2" height="67.98" fill="#a9c9ee" stroke="#8ab6e6" stroke-width="0.8"/>
<rect x="1101.7" y="438.26" width="19.2" height="17.24" fill="#fdd9a0" stroke="#fbd090" stroke-width="0.6"/>
<path d="M1092.1,381.77 V393.26 M1089.6,381.77 H1094.6 M1089.6,393.26 H1094.6" stroke="#2a85cc" stroke-width="1.3" fill="none"/>
<path d="M1111.3,435.97 V440.56 M1108.8,435.97 H1113.8 M1108.8,440.56 H1113.8" stroke="#f5c880" stroke-width="1.3" fill="none"/>
<rect x="1134.6" y="353.81" width="19.2" height="101.69" fill="#a9c9ee" stroke="#8ab6e6" stroke-width="0.8"/>
<rect x="1153.8" y="408.77" width="19.2" height="46.73" fill="#fdd9a0" stroke="#fbd090" stroke-width="0.6"/>
<path d="M1144.2,345.77 V361.86 M1141.7,345.77 H1146.7 M1141.7,361.86 H1146.7" stroke="#2a85cc" stroke-width="1.3" fill="none"/>
<path d="M1163.4,404.94 V412.6 M1160.9,404.94 H1165.9 M1160.9,412.6 H1165.9" stroke="#f5c880" stroke-width="1.3" fill="none"/>
<rect x="1186.3" y="286.98" width="19.2" height="168.52" fill="#a9c9ee" stroke="#8ab6e6" stroke-width="0.8"/>
<rect x="1205.5" y="419.88" width="19.2" height="35.62" fill="#fdd9a0" stroke="#fbd090" stroke-width="0.6"/>
<path d="M1195.9,278.17 V295.79 M1193.4,278.17 H1198.4 M1193.4,295.79 H1198.4" stroke="#2a85cc" stroke-width="1.3" fill="none"/>
<path d="M1215.1,414.9 V424.86 M1212.6,414.9 H1217.6 M1212.6,424.86 H1217.6" stroke="#f5c880" stroke-width="1.3" fill="none"/>
<rect x="1237.8" y="277.02" width="19.2" height="178.48" fill="#a9c9ee" stroke="#8ab6e6" stroke-width="0.8"/>
<rect x="1257" y="422.18" width="19.2" height="33.32" fill="#fdd9a0" stroke="#fbd090" stroke-width="0.6"/>
<path d="M1247.4,267.45 V286.6 M1244.9,267.45 H1249.9 M1244.9,286.6 H1249.9" stroke="#2a85cc" stroke-width="1.3" fill="none"/>
<path d="M1266.6,413.37 V430.99 M1264.1,413.37 H1269.1 M1264.1,430.99 H1269.1" stroke="#f5c880" stroke-width="1.3" fill="none"/>
<rect x="1022.7" y="245.5" width="260.1" height="210" fill="none" stroke="#222" stroke-width="1.8"/>
<line x1="1018.7" y1="455.5" x2="1022.7" y2="455.5" stroke="#222" stroke-width="1.6"/>
<text x="1016.7" y="458.5" font-family="Liberation Sans" font-weight="bold" font-size="8.5" text-anchor="end" fill="#222">0</text>
<line x1="1018.7" y1="417.2" x2="1022.7" y2="417.2" stroke="#222" stroke-width="1.6"/>
<text x="1016.7" y="420.2" font-family="Liberation Sans" font-weight="bold" font-size="8.5" text-anchor="end" fill="#222">10</text>
<line x1="1018.7" y1="378.9" x2="1022.7" y2="378.9" stroke="#222" stroke-width="1.6"/>
<text x="1016.7" y="381.9" font-family="Liberation Sans" font-weight="bold" font-size="8.5" text-anchor="end" fill="#222">20</text>
<line x1="1018.7" y1="340.6" x2="1022.7" y2="340.6" stroke="#222" stroke-width="1.6"/>
<text x="1016.7" y="343.6" font-family="Liberation Sans" font-weight="bold" font-size="8.5" text-anchor="end" fill="#222">30</text>
<line x1="1018.7" y1="302.3" x2="1022.7" y2="302.3" stroke="#222" stroke-width="1.6"/>
<text x="1016.7" y="305.3" font-family="Liberation Sans" font-weight="bold" font-size="8.5" text-anchor="end" fill="#222">40</text>
<line x1="1018.7" y1="264" x2="1022.7" y2="264" stroke="#222" stroke-width="1.6"/>
<text x="1016.7" y="267" font-family="Liberation Sans" font-weight="bold" font-size="8.5" text-anchor="end" fill="#222">50</text>
<line x1="1020.2" y1="436.35" x2="1022.7" y2="436.35" stroke="#222" stroke-width="1.2"/>
<line x1="1020.2" y1="398.05" x2="1022.7" y2="398.05" stroke="#222" stroke-width="1.2"/>
<line x1="1020.2" y1="359.75" x2="1022.7" y2="359.75" stroke="#222" stroke-width="1.2"/>
<line x1="1020.2" y1="321.45" x2="1022.7" y2="321.45" stroke="#222" stroke-width="1.2"/>
<line x1="1020.2" y1="283.15" x2="1022.7" y2="283.15" stroke="#222" stroke-width="1.2"/>
<line x1="1020.2" y1="244.85" x2="1022.7" y2="244.85" stroke="#222" stroke-width="1.2"/>
<line x1="1049.7" y1="455.5" x2="1049.7" y2="459.0" stroke="#222" stroke-width="1.5"/>
<text x="1049.7" y="468.0" font-family="Liberation Sans" font-weight="bold" font-size="8.5" text-anchor="middle" fill="#222">10</text>
<line x1="1101.7" y1="455.5" x2="1101.7" y2="459.0" stroke="#222" stroke-width="1.5"/>
<text x="1101.7" y="468.0" font-family="Liberation Sans" font-weight="bold" font-size="8.5" text-anchor="middle" fill="#222">20</text>
<line x1="1153.8" y1="455.5" x2="1153.8" y2="459.0" stroke="#222" stroke-width="1.5"/>
<text x="1153.8" y="468.0" font-family="Liberation Sans" font-weight="bold" font-size="8.5" text-anchor="middle" fill="#222">50</text>
<line x1="1205.5" y1="455.5" x2="1205.5" y2="459.0" stroke="#222" stroke-width="1.5"/>
<text x="1205.5" y="468.0" font-family="Liberation Sans" font-weight="bold" font-size="8.5" text-anchor="middle" fill="#222">100</text>
<line x1="1257" y1="455.5" x2="1257" y2="459.0" stroke="#222" stroke-width="1.5"/>
<text x="1257" y="468.0" font-family="Liberation Sans" font-weight="bold" font-size="8.5" text-anchor="middle" fill="#222">200</text>
<line x1="1023.9" y1="455.5" x2="1023.9" y2="458.0" stroke="#222" stroke-width="1.2"/>
<line x1="1075.7" y1="455.5" x2="1075.7" y2="458.0" stroke="#222" stroke-width="1.2"/>
<line x1="1127.8" y1="455.5" x2="1127.8" y2="458.0" stroke="#222" stroke-width="1.2"/>
<line x1="1179.6" y1="455.5" x2="1179.6" y2="458.0" stroke="#222" stroke-width="1.2"/>
<line x1="1231.3" y1="455.5" x2="1231.3" y2="458.0" stroke="#222" stroke-width="1.2"/>
<text x="1155.5" y="487.8" font-family="Liberation Sans" font-weight="bold" font-size="11" text-anchor="middle" fill="#222">Concentration (mg L<tspan font-size="6.5" dy="-4">-1</tspan><tspan dy="4">)</tspan></text>
<text transform="translate(996.5,350) rotate(-90)" font-family="Liberation Sans" font-weight="bold" font-size="11" text-anchor="middle" fill="#222">q<tspan font-size="6.5" dy="2">t</tspan><tspan dy="-2">(mg g</tspan><tspan font-size="6.5" dy="-4">-1</tspan><tspan dy="4">)</tspan></text>
<rect x="1039" y="258.8" width="25" height="12.5" fill="#a9c9ee" stroke="#8ab6e6" stroke-width="0.8"/>
<rect x="1039" y="272" width="25" height="13.3" fill="#fdd9a0"/>
<text x="1067" y="269.2" font-family="Liberation Sans" font-weight="bold" font-size="10" fill="#222">AlNC</text>
<text x="1067" y="283" font-family="Liberation Sans" font-weight="bold" font-size="10" fill="#222">NH<tspan font-size="6.5" dy="2.5">2</tspan><tspan dy="-2.5">-MIL-53(Al)</tspan></text>
<rect x="1366" y="244.7" width="262" height="211" fill="none" stroke="#222" stroke-width="1.8"/>
<line x1="1362" y1="455.7" x2="1366" y2="455.7" stroke="#222" stroke-width="1.6"/>
<text x="1360" y="458.7" font-family="Liberation Sans" font-weight="bold" font-size="8.5" text-anchor="end" fill="#222">0</text>
<line x1="1362" y1="417.4" x2="1366" y2="417.4" stroke="#222" stroke-width="1.6"/>
<text x="1360" y="420.4" font-family="Liberation Sans" font-weight="bold" font-size="8.5" text-anchor="end" fill="#222">10</text>
<line x1="1362" y1="379.1" x2="1366" y2="379.1" stroke="#222" stroke-width="1.6"/>
<text x="1360" y="382.1" font-family="Liberation Sans" font-weight="bold" font-size="8.5" text-anchor="end" fill="#222">20</text>
<line x1="1362" y1="340.8" x2="1366" y2="340.8" stroke="#222" stroke-width="1.6"/>
<text x="1360" y="343.8" font-family="Liberation Sans" font-weight="bold" font-size="8.5" text-anchor="end" fill="#222">30</text>
<line x1="1362" y1="302.5" x2="1366" y2="302.5" stroke="#222" stroke-width="1.6"/>
<text x="1360" y="305.5" font-family="Liberation Sans" font-weight="bold" font-size="8.5" text-anchor="end" fill="#222">40</text>
<line x1="1362" y1="264.2" x2="1366" y2="264.2" stroke="#222" stroke-width="1.6"/>
<text x="1360" y="267.2" font-family="Liberation Sans" font-weight="bold" font-size="8.5" text-anchor="end" fill="#222">50</text>
<line x1="1363.5" y1="436.55" x2="1366" y2="436.55" stroke="#222" stroke-width="1.2"/>
<line x1="1363.5" y1="398.25" x2="1366" y2="398.25" stroke="#222" stroke-width="1.2"/>
<line x1="1363.5" y1="359.95" x2="1366" y2="359.95" stroke="#222" stroke-width="1.2"/>
<line x1="1363.5" y1="321.65" x2="1366" y2="321.65" stroke="#222" stroke-width="1.2"/>
<line x1="1363.5" y1="283.35" x2="1366" y2="283.35" stroke="#222" stroke-width="1.2"/>
<line x1="1363.5" y1="245.05" x2="1366" y2="245.05" stroke="#222" stroke-width="1.2"/>
<line x1="1366" y1="455.7" x2="1366" y2="459.7" stroke="#222" stroke-width="1.6"/>
<text x="1366" y="469.2" font-family="Liberation Sans" font-weight="bold" font-size="8.5" text-anchor="middle" fill="#222">0</text>
<line x1="1426.38" y1="455.7" x2="1426.38" y2="459.7" stroke="#222" stroke-width="1.6"/>
<text x="1426.38" y="469.2" font-family="Liberation Sans" font-weight="bold" font-size="8.5" text-anchor="middle" fill="#222">30</text>
<line x1="1486.75" y1="455.7" x2="1486.75" y2="459.7" stroke="#222" stroke-width="1.6"/>
<text x="1486.75" y="469.2" font-family="Liberation Sans" font-weight="bold" font-size="8.5" text-anchor="middle" fill="#222">60</text>
<line x1="1547.12" y1="455.7" x2="1547.12" y2="459.7" stroke="#222" stroke-width="1.6"/>
<text x="1547.12" y="469.2" font-family="Liberation Sans" font-weight="bold" font-size="8.5" text-anchor="middle" fill="#222">90</text>
<line x1="1607.5" y1="455.7" x2="1607.5" y2="459.7" stroke="#222" stroke-width="1.6"/>
<text x="1607.5" y="469.2" font-family="Liberation Sans" font-weight="bold" font-size="8.5" text-anchor="middle" fill="#222">120</text>
<line x1="1396.19" y1="455.7" x2="1396.19" y2="458.2" stroke="#222" stroke-width="1.2"/>
<line x1="1456.56" y1="455.7" x2="1456.56" y2="458.2" stroke="#222" stroke-width="1.2"/>
<line x1="1516.94" y1="455.7" x2="1516.94" y2="458.2" stroke="#222" stroke-width="1.2"/>
<line x1="1577.31" y1="455.7" x2="1577.31" y2="458.2" stroke="#222" stroke-width="1.2"/>
<text x="1497" y="486.7" font-family="Liberation Sans" font-weight="bold" font-size="10.5" text-anchor="middle" fill="#222">Time (min)</text>
<text transform="translate(1341,353) rotate(-90)" font-family="Liberation Sans" font-weight="bold" font-size="11" text-anchor="middle" fill="#222">q<tspan font-size="6.5" dy="2">t</tspan><tspan dy="-2">(mg g</tspan><tspan font-size="6.5" dy="-4">-1</tspan><tspan dy="4">)</tspan></text>
<path d="M1366,455.7 L1426.38,426.59 L1486.75,415.49 L1547.12,409.74 L1607.5,399.02" fill="none" stroke="#f5a04e" stroke-width="2" stroke-linejoin="round"/>
<path d="M1426.38,422.39 L1430.57,426.59 L1426.38,430.79 L1422.18,426.59Z" fill="#f5a04e"/>
<path d="M1486.75,411.28 L1490.95,415.49 L1486.75,419.69 L1482.55,415.49Z" fill="#f5a04e"/>
<path d="M1547.12,405.54 L1551.32,409.74 L1547.12,413.94 L1542.93,409.74Z" fill="#f5a04e"/>
<path d="M1607.5,394.82 L1611.7,399.02 L1607.5,403.22 L1603.3,399.02Z" fill="#f5a04e"/>
<path d="M1366,455.7 L1426.38,429.66 L1486.75,420.46 L1547.12,415.87 L1607.5,407.82" fill="none" stroke="#111" stroke-width="2" stroke-linejoin="round"/>
<path d="M1426.38,426.06 L1429.97,432.18 L1422.78,432.18Z" fill="#111"/>
<path d="M1486.75,416.86 L1490.35,422.98 L1483.15,422.98Z" fill="#111"/>
<path d="M1547.12,412.27 L1550.72,418.39 L1543.53,418.39Z" fill="#111"/>
<path d="M1607.5,404.22 L1611.1,410.34 L1603.9,410.34Z" fill="#111"/>
<path d="M1366,455.7 L1426.38,382.93 L1486.75,367.99 L1547.12,360.33 L1607.5,353.82" fill="none" stroke="#9a9488" stroke-width="2" stroke-linejoin="round"/>
<circle cx="1426.38" cy="382.93" r="3.6" fill="#6c9e6c"/>
<circle cx="1486.75" cy="367.99" r="3.6" fill="#6c9e6c"/>
<circle cx="1547.12" cy="360.33" r="3.6" fill="#6c9e6c"/>
<circle cx="1607.5" cy="353.82" r="3.6" fill="#6c9e6c"/>
<path d="M1366,455.7 L1426.38,335.06 L1486.75,313.22 L1547.12,291.01 L1607.5,287.18" fill="none" stroke="#fcca80" stroke-width="2" stroke-linejoin="round"/>
<circle cx="1426.38" cy="335.06" r="3.6" fill="#fcca80"/>
<circle cx="1486.75" cy="313.22" r="3.6" fill="#fcca80"/>
<circle cx="1547.12" cy="291.01" r="3.6" fill="#fcca80"/>
<circle cx="1607.5" cy="287.18" r="3.6" fill="#fcca80"/>
<path d="M1366,455.7 L1426.38,328.16 L1486.75,302.5 L1547.12,285.26 L1607.5,277.22" fill="none" stroke="#5b9bd5" stroke-width="2" stroke-linejoin="round"/>
<path d="M1426.38,323.96 L1430.57,328.16 L1426.38,332.36 L1422.18,328.16Z" fill="#5b9bd5"/>
<path d="M1486.75,298.3 L1490.95,302.5 L1486.75,306.7 L1482.55,302.5Z" fill="#5b9bd5"/>
<path d="M1547.12,281.06 L1551.32,285.26 L1547.12,289.47 L1542.93,285.26Z" fill="#5b9bd5"/>
<path d="M1607.5,273.02 L1611.7,277.22 L1607.5,281.42 L1603.3,277.22Z" fill="#5b9bd5"/>
<line x1="1379.4" y1="258" x2="1398.6" y2="258" stroke="#5b9bd5" stroke-width="2"/>
<path d="M1389.2,254.2 L1393,258 L1389.2,261.8 L1385.4,258Z" fill="#5b9bd5"/>
<text x="1401.3" y="261" font-family="Liberation Sans" font-weight="bold" font-size="8" fill="#222">200 mg L<tspan font-size="5" dy="-3.5">-1</tspan></text>
<line x1="1379.4" y1="269.2" x2="1398.6" y2="269.2" stroke="#fcca80" stroke-width="2"/>
<circle cx="1389.2" cy="269.2" r="3.2" fill="#fcca80"/>
<text x="1401.3" y="272.2" font-family="Liberation Sans" font-weight="bold" font-size="8" fill="#222">100 mg L<tspan font-size="5" dy="-3.5">-1</tspan></text>
<line x1="1379.4" y1="280.6" x2="1398.6" y2="280.6" stroke="#6c9e6c" stroke-width="2"/>
<circle cx="1389.2" cy="280.6" r="3.2" fill="#6c9e6c"/>
<text x="1401.3" y="283.6" font-family="Liberation Sans" font-weight="bold" font-size="8" fill="#222">50 mg L<tspan font-size="5" dy="-3.5">-1</tspan></text>
<line x1="1379.4" y1="292.2" x2="1398.6" y2="292.2" stroke="#f5a04e" stroke-width="2"/>
<path d="M1389.2,288.4 L1393,292.2 L1389.2,296 L1385.4,292.2Z" fill="#f5a04e"/>
<text x="1401.3" y="295.2" font-family="Liberation Sans" font-weight="bold" font-size="8" fill="#222">20 mg L<tspan font-size="5" dy="-3.5">-1</tspan></text>
<line x1="1379.4" y1="303.7" x2="1398.6" y2="303.7" stroke="#111" stroke-width="2"/>
<path d="M1389.2,300.5 L1392.4,305.94 L1386,305.94Z" fill="#111"/>
<text x="1401.3" y="306.7" font-family="Liberation Sans" font-weight="bold" font-size="8" fill="#222">10 mg L<tspan font-size="5" dy="-3.5">-1</tspan></text>
<rect x="1025.8" y="514.8" width="262.2" height="210.7" fill="none" stroke="#222" stroke-width="1.8"/>
<line x1="1021.8" y1="725.5" x2="1025.8" y2="725.5" stroke="#222" stroke-width="1.6"/>
<text x="1019.8" y="728.5" font-family="Liberation Sans" font-weight="bold" font-size="8.5" text-anchor="end" fill="#222">0</text>
<line x1="1021.8" y1="695.4" x2="1025.8" y2="695.4" stroke="#222" stroke-width="1.6"/>
<text x="1019.8" y="698.4" font-family="Liberation Sans" font-weight="bold" font-size="8.5" text-anchor="end" fill="#222">5</text>
<line x1="1021.8" y1="665.3" x2="1025.8" y2="665.3" stroke="#222" stroke-width="1.6"/>
<text x="1019.8" y="668.3" font-family="Liberation Sans" font-weight="bold" font-size="8.5" text-anchor="end" fill="#222">10</text>
<line x1="1021.8" y1="635.2" x2="1025.8" y2="635.2" stroke="#222" stroke-width="1.6"/>
<text x="1019.8" y="638.2" font-family="Liberation Sans" font-weight="bold" font-size="8.5" text-anchor="end" fill="#222">15</text>
<line x1="1021.8" y1="605.1" x2="1025.8" y2="605.1" stroke="#222" stroke-width="1.6"/>
<text x="1019.8" y="608.1" font-family="Liberation Sans" font-weight="bold" font-size="8.5" text-anchor="end" fill="#222">20</text>
<line x1="1021.8" y1="575" x2="1025.8" y2="575" stroke="#222" stroke-width="1.6"/>
<text x="1019.8" y="578" font-family="Liberation Sans" font-weight="bold" font-size="8.5" text-anchor="end" fill="#222">25</text>
<line x1="1021.8" y1="544.9" x2="1025.8" y2="544.9" stroke="#222" stroke-width="1.6"/>
<text x="1019.8" y="547.9" font-family="Liberation Sans" font-weight="bold" font-size="8.5" text-anchor="end" fill="#222">30</text>
<line x1="1021.8" y1="514.8" x2="1025.8" y2="514.8" stroke="#222" stroke-width="1.6"/>
<text x="1019.8" y="517.8" font-family="Liberation Sans" font-weight="bold" font-size="8.5" text-anchor="end" fill="#222">35</text>
<line x1="1023.3" y1="710.45" x2="1025.8" y2="710.45" stroke="#222" stroke-width="1.2"/>
<line x1="1023.3" y1="680.35" x2="1025.8" y2="680.35" stroke="#222" stroke-width="1.2"/>
<line x1="1023.3" y1="650.25" x2="1025.8" y2="650.25" stroke="#222" stroke-width="1.2"/>
<line x1="1023.3" y1="620.15" x2="1025.8" y2="620.15" stroke="#222" stroke-width="1.2"/>
<line x1="1023.3" y1="590.05" x2="1025.8" y2="590.05" stroke="#222" stroke-width="1.2"/>
<line x1="1023.3" y1="559.95" x2="1025.8" y2="559.95" stroke="#222" stroke-width="1.2"/>
<line x1="1023.3" y1="529.85" x2="1025.8" y2="529.85" stroke="#222" stroke-width="1.2"/>
<line x1="1052.9" y1="725.5" x2="1052.9" y2="729.5" stroke="#222" stroke-width="1.6"/>
<text x="1052.9" y="739.0" font-family="Liberation Sans" font-weight="bold" font-size="8.5" text-anchor="middle" fill="#222">3</text>
<line x1="1105" y1="725.5" x2="1105" y2="729.5" stroke="#222" stroke-width="1.6"/>
<text x="1105" y="739.0" font-family="Liberation Sans" font-weight="bold" font-size="8.5" text-anchor="middle" fill="#222">5</text>
<line x1="1157.1" y1="725.5" x2="1157.1" y2="729.5" stroke="#222" stroke-width="1.6"/>
<text x="1157.1" y="739.0" font-family="Liberation Sans" font-weight="bold" font-size="8.5" text-anchor="middle" fill="#222">7</text>
<line x1="1209.2" y1="725.5" x2="1209.2" y2="729.5" stroke="#222" stroke-width="1.6"/>
<text x="1209.2" y="739.0" font-family="Liberation Sans" font-weight="bold" font-size="8.5" text-anchor="middle" fill="#222">9</text>
<line x1="1261.3" y1="725.5" x2="1261.3" y2="729.5" stroke="#222" stroke-width="1.6"/>
<text x="1261.3" y="739.0" font-family="Liberation Sans" font-weight="bold" font-size="8.5" text-anchor="middle" fill="#222">11</text>
<line x1="1078.95" y1="725.5" x2="1078.95" y2="728.0" stroke="#222" stroke-width="1.2"/>
<line x1="1131.05" y1="725.5" x2="1131.05" y2="728.0" stroke="#222" stroke-width="1.2"/>
<line x1="1183.15" y1="725.5" x2="1183.15" y2="728.0" stroke="#222" stroke-width="1.2"/>
<line x1="1235.25" y1="725.5" x2="1235.25" y2="728.0" stroke="#222" stroke-width="1.2"/>
<line x1="1287.35" y1="725.5" x2="1287.35" y2="728.0" stroke="#222" stroke-width="1.2"/>
<text x="1157" y="757.5" font-family="Liberation Sans" font-weight="bold" font-size="10" text-anchor="middle" fill="#222">pH</text>
<text transform="translate(999.5,620.5) rotate(-90)" font-family="Liberation Sans" font-weight="bold" font-size="11" text-anchor="middle" fill="#222">q<tspan font-size="6.5" dy="2">t</tspan><tspan dy="-2">(mg g</tspan><tspan font-size="6.5" dy="-4">-1</tspan><tspan dy="4">)</tspan></text>
<path d="M1052.9,691.19 L1105,550.32 L1157.1,565.37 L1209.2,587.04 L1261.3,617.14" fill="none" stroke="#1a1a1a" stroke-width="2"/>
<path d="M1052.9,682.16 V700.22 M1050.4,682.16 H1055.4 M1050.4,700.22 H1055.4" stroke="#8ab4d8" stroke-width="1.2" fill="none"/>
<polygon points="1052.9,683.69 1054.78,688.6 1060.03,688.87 1055.94,692.17 1057.31,697.25 1052.9,694.39 1048.49,697.25 1049.86,692.17 1045.77,688.87 1051.02,688.6" fill="#1f7fc0"/>
<path d="M1105,535.27 V565.37 M1102.5,535.27 H1107.5 M1102.5,565.37 H1107.5" stroke="#8ab4d8" stroke-width="1.2" fill="none"/>
<polygon points="1105,542.82 1106.88,547.73 1112.13,548 1108.04,551.31 1109.41,556.39 1105,553.52 1100.59,556.39 1101.96,551.31 1097.87,548 1103.12,547.73" fill="#1f7fc0"/>
<path d="M1157.1,554.53 V576.2 M1154.6,554.53 H1159.6 M1154.6,576.2 H1159.6" stroke="#8ab4d8" stroke-width="1.2" fill="none"/>
<polygon points="1157.1,557.87 1158.98,562.78 1164.23,563.05 1160.14,566.36 1161.51,571.44 1157.1,568.57 1152.69,571.44 1154.06,566.36 1149.97,563.05 1155.22,562.78" fill="#1f7fc0"/>
<path d="M1209.2,575 V599.08 M1206.7,575 H1211.7 M1206.7,599.08 H1211.7" stroke="#8ab4d8" stroke-width="1.2" fill="none"/>
<polygon points="1209.2,579.54 1211.08,584.45 1216.33,584.72 1212.24,588.03 1213.61,593.11 1209.2,590.24 1204.79,593.11 1206.16,588.03 1202.07,584.72 1207.32,584.45" fill="#1f7fc0"/>
<path d="M1261.3,608.11 V626.17 M1258.8,608.11 H1263.8 M1258.8,626.17 H1263.8" stroke="#8ab4d8" stroke-width="1.2" fill="none"/>
<polygon points="1261.3,609.64 1263.18,614.55 1268.43,614.82 1264.34,618.13 1265.71,623.21 1261.3,620.34 1256.89,623.21 1258.26,618.13 1254.17,614.82 1259.42,614.55" fill="#1f7fc0"/>
<rect x="1374.4" y="537" width="173.84" height="23.6" fill="#67a7e3"/>
<rect x="1374.4" y="576.2" width="193.78" height="23.5" fill="#67a7e3"/>
<rect x="1374.4" y="616" width="181.51" height="23.2" fill="#67a7e3"/>
<rect x="1374.4" y="655.5" width="193.02" height="23.5" fill="#67a7e3"/>
<rect x="1374.4" y="694.6" width="204.52" height="24.2" fill="#fecb5a"/>
<rect x="1374.4" y="528.9" width="270.6" height="198.1" fill="none" stroke="#222" stroke-width="1.8"/>
<line x1="1374.9" y1="727" x2="1374.9" y2="731" stroke="#222" stroke-width="1.6"/>
<text x="1374.9" y="740.5" font-family="Liberation Sans" font-weight="bold" font-size="8.5" text-anchor="middle" fill="#222">0</text>
<line x1="1451.6" y1="727" x2="1451.6" y2="731" stroke="#222" stroke-width="1.6"/>
<text x="1451.6" y="740.5" font-family="Liberation Sans" font-weight="bold" font-size="8.5" text-anchor="middle" fill="#222">10</text>
<line x1="1528.3" y1="727" x2="1528.3" y2="731" stroke="#222" stroke-width="1.6"/>
<text x="1528.3" y="740.5" font-family="Liberation Sans" font-weight="bold" font-size="8.5" text-anchor="middle" fill="#222">20</text>
<line x1="1605" y1="727" x2="1605" y2="731" stroke="#222" stroke-width="1.6"/>
<text x="1605" y="740.5" font-family="Liberation Sans" font-weight="bold" font-size="8.5" text-anchor="middle" fill="#222">30</text>
<line x1="1413.25" y1="727" x2="1413.25" y2="729.5" stroke="#222" stroke-width="1.2"/>
<line x1="1489.95" y1="727" x2="1489.95" y2="729.5" stroke="#222" stroke-width="1.2"/>
<line x1="1566.65" y1="727" x2="1566.65" y2="729.5" stroke="#222" stroke-width="1.2"/>
<line x1="1643.35" y1="727" x2="1643.35" y2="729.5" stroke="#222" stroke-width="1.2"/>
<circle cx="1374.4" cy="568.3" r="1.8" fill="#222"/>
<circle cx="1374.4" cy="607.8" r="1.8" fill="#222"/>
<circle cx="1374.4" cy="647.3" r="1.8" fill="#222"/>
<circle cx="1374.4" cy="686.8" r="1.8" fill="#222"/>
<text x="1371" y="551.8" font-family="Liberation Sans" font-weight="bold" font-size="8.5" text-anchor="end" fill="#222">F<tspan font-size="5.5" dy="-3">-</tspan><tspan dy="3">+SO</tspan><tspan font-size="5.5" dy="2.5">4</tspan><tspan font-size="5.5" dy="-6">2-</tspan></text>
<text x="1371" y="591" font-family="Liberation Sans" font-weight="bold" font-size="8.5" text-anchor="end" fill="#222">F<tspan font-size="5.5" dy="-3">-</tspan><tspan dy="3">+HCO</tspan><tspan font-size="5.5" dy="2.5">3</tspan><tspan font-size="5.5" dy="-6">-</tspan></text>
<text x="1371" y="630.6" font-family="Liberation Sans" font-weight="bold" font-size="8.5" text-anchor="end" fill="#222">F<tspan font-size="5.5" dy="-3">-</tspan><tspan dy="3">+NO</tspan><tspan font-size="5.5" dy="2.5">3</tspan><tspan font-size="5.5" dy="-6">-</tspan></text>
<text x="1371" y="670.2" font-family="Liberation Sans" font-weight="bold" font-size="8.5" text-anchor="end" fill="#222">F<tspan font-size="5.5" dy="-3">-</tspan><tspan dy="3">+Cl</tspan><tspan font-size="5.5" dy="-3">-</tspan></text>
<text x="1371" y="709.7" font-family="Liberation Sans" font-weight="bold" font-size="8.5" text-anchor="end" fill="#222">F<tspan font-size="5.5" dy="-3">-</tspan></text>
<text x="1511.7" y="756" font-family="Liberation Sans" font-weight="bold" font-size="10" text-anchor="middle" fill="#222">q<tspan font-size="6.5" dy="2">t</tspan><tspan dy="-2">(mg g</tspan><tspan font-size="6.5" dy="-4">-1</tspan><tspan dy="4">)</tspan></text>
<text x="3" y="34" font-family="Liberation Serif" font-size="40" fill="#111">(a)</text>
<text x="959" y="34" font-family="Liberation Serif" font-size="40" fill="#111">(b)</text>
<text x="1293" y="34" font-family="Liberation Serif" font-size="40" fill="#111">(c)</text>
<text x="3" y="271" font-family="Liberation Serif" font-size="40" fill="#111">(d)</text>
<text x="960" y="271.5" font-family="Liberation Serif" font-size="40" fill="#111">(e)</text>
<text x="1293" y="270.5" font-family="Liberation Serif" font-size="40" fill="#111">(f)</text>
<text x="960" y="541" font-family="Liberation Serif" font-size="40" fill="#111">(g)</text>
<text x="1293" y="538" font-family="Liberation Serif" font-size="40" fill="#111">(h)</text>
<text x="3" y="495" font-family="Liberation Serif" font-size="40" fill="#111">(i)</text>
</svg></body></html>
